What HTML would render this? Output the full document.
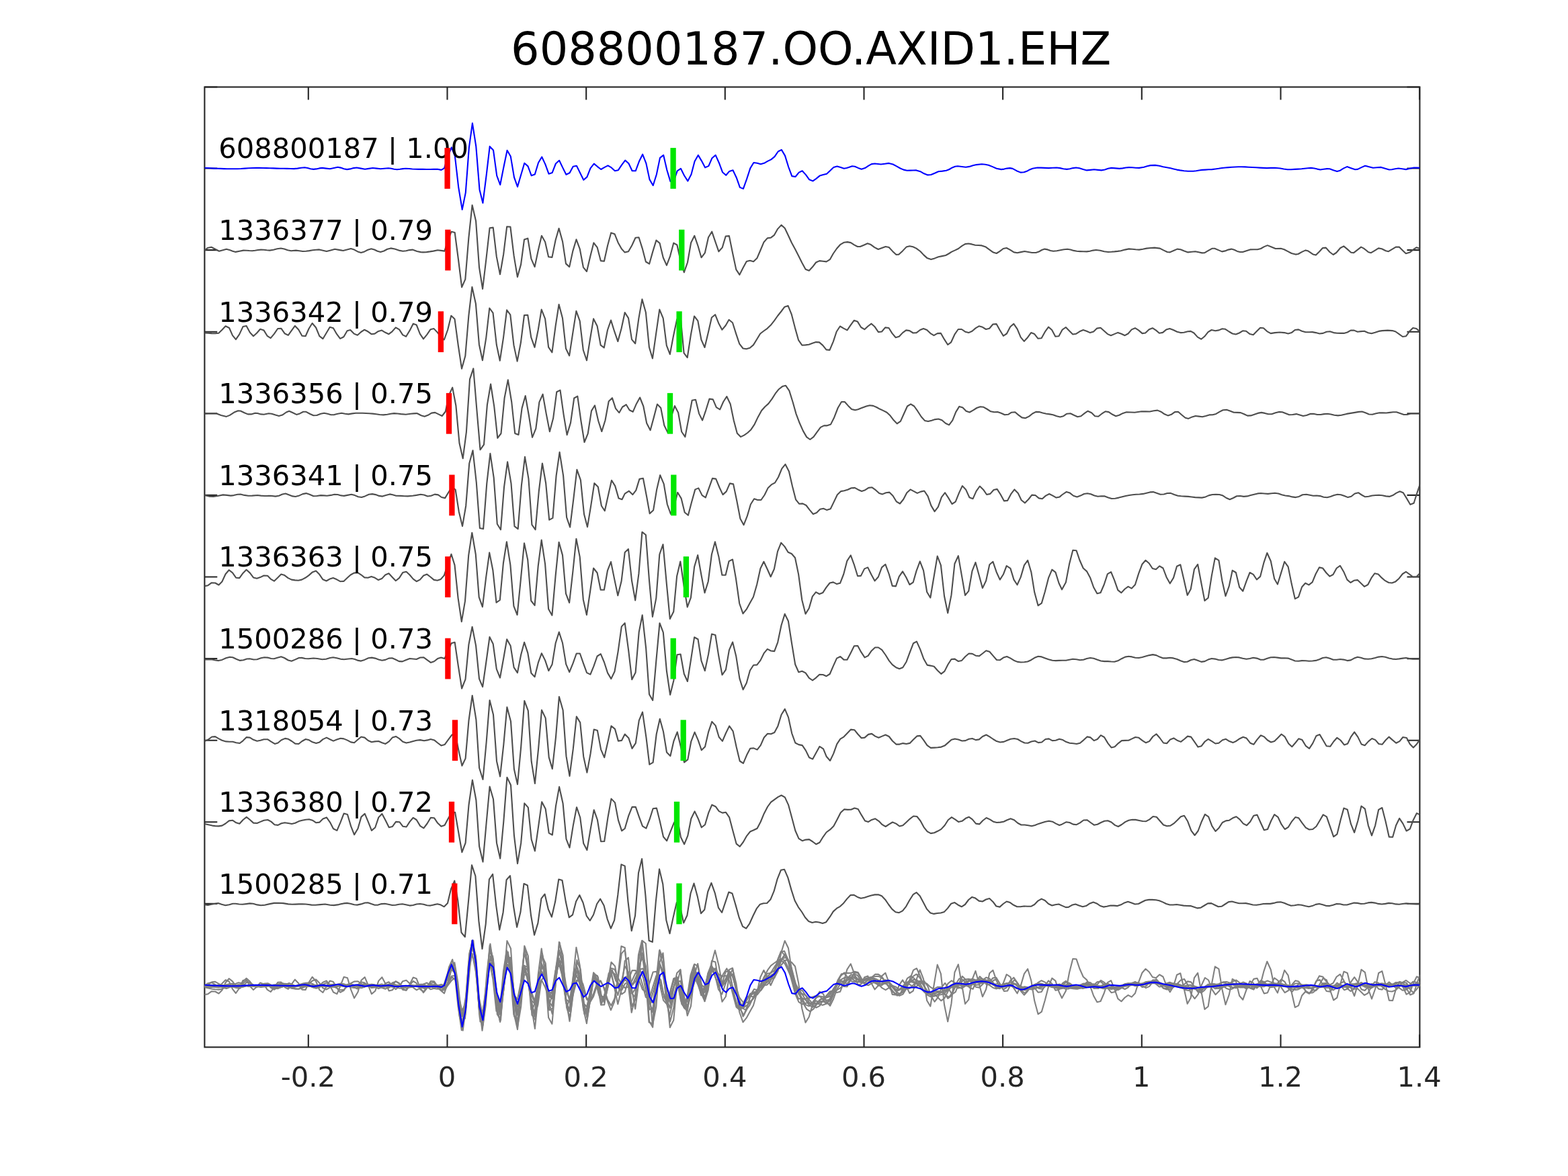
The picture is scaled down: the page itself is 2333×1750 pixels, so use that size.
<!DOCTYPE html>
<html lang="en">
<head>
<meta charset="utf-8">
<title>608800187.OO.AXID1.EHZ</title>
<style>
html,body{margin:0;padding:0;background:#fff;}
body{width:2333px;height:1750px;overflow:hidden;}
svg{display:block;}
text{font-family:"DejaVu Sans","Liberation Sans",sans-serif;}
.tk{font-size:41.67px;fill:#262626;text-anchor:middle;}
.lb{font-size:41.67px;fill:#000;}
.ti{font-size:66.9px;fill:#000;text-anchor:middle;}
.g{fill:none;stroke:#4d4d4d;stroke-width:2.1;stroke-linejoin:round;stroke-linecap:butt;}
.s{fill:none;stroke:#808080;stroke-width:2.1;stroke-linejoin:round;}
.b{fill:none;stroke:#0000ff;stroke-width:2.1;stroke-linejoin:round;}
.ax{fill:none;stroke:#262626;stroke-width:2.1;}
.r{stroke:#ff0000;stroke-width:8.3;}
.gr{stroke:#00e600;stroke-width:8.3;}
</style>
</head>
<body>
<svg width="2333" height="1750" viewBox="0 0 2333 1750">
<rect x="0" y="0" width="2333" height="1750" fill="#ffffff"/>
<defs><clipPath id="c"><rect x="304.4" y="129.5" width="1808.0" height="1428.8"/></clipPath></defs>
<rect class="ax" x="304.4" y="129.5" width="1808.0" height="1428.8"/>
<path class="ax" d="M458.8 1558.3V1539.4M458.8 129.5V148.4M665.5 1558.3V1539.4M665.5 129.5V148.4M872.2 1558.3V1539.4M872.2 129.5V148.4M1078.8 1558.3V1539.4M1078.8 129.5V148.4M1285.5 1558.3V1539.4M1285.5 129.5V148.4M1492.1 1558.3V1539.4M1492.1 129.5V148.4M1698.8 1558.3V1539.4M1698.8 129.5V148.4M1905.5 1558.3V1539.4M1905.5 129.5V148.4M2112.1 1558.3V1539.4M2112.1 129.5V148.4M304.4 129.5H323.3M2112.4 129.5H2093.5M304.4 250.5H323.3M2112.4 250.5H2093.5M304.4 372.1H323.3M2112.4 372.1H2093.5M304.4 493.7H323.3M2112.4 493.7H2093.5M304.4 615.3H323.3M2112.4 615.3H2093.5M304.4 736.9H323.3M2112.4 736.9H2093.5M304.4 858.5H323.3M2112.4 858.5H2093.5M304.4 980.1H323.3M2112.4 980.1H2093.5M304.4 1101.7H323.3M2112.4 1101.7H2093.5M304.4 1223.3H323.3M2112.4 1223.3H2093.5M304.4 1344.9H323.3M2112.4 1344.9H2093.5M304.4 1466.5H323.3M2112.4 1466.5H2093.5"/>
<text class="tk" x="458.3" y="1617">-0.2</text>
<text class="tk" x="665.0" y="1617">0</text>
<text class="tk" x="871.7" y="1617">0.2</text>
<text class="tk" x="1078.3" y="1617">0.4</text>
<text class="tk" x="1285.0" y="1617">0.6</text>
<text class="tk" x="1491.6" y="1617">0.8</text>
<text class="tk" x="1698.3" y="1617">1</text>
<text class="tk" x="1905.0" y="1617">1.2</text>
<text class="tk" x="2111.6" y="1617">1.4</text>
<g clip-path="url(#c)">
<polyline class="b" points="304.3,249.8 309.0,250.0 313.7,250.3 318.4,250.6 323.1,250.8 328.1,250.9 333.0,251.1 337.9,251.2 342.8,251.3 347.7,251.3 353.3,251.2 358.8,251.0 364.4,250.6 369.9,250.3 375.5,250.0 381.0,249.9 386.1,249.9 391.3,250.0 396.4,250.1 401.5,250.2 406.7,250.4 411.8,250.6 416.9,250.7 422.1,250.8 427.2,250.9 432.3,251.0 437.4,251.1 442.7,250.6 448.0,249.8 453.4,249.3 457.7,250.0 462.0,251.2 466.4,251.9 470.7,251.4 475.1,250.4 479.4,249.9 485.2,250.6 491.0,251.3 496.8,250.0 502.5,248.7 507.1,249.6 511.7,251.2 516.3,252.1 521.1,251.4 525.9,250.1 530.7,249.5 536.9,250.6 543.0,251.8 548.8,250.9 554.6,250.0 560.4,250.6 566.2,251.2 572.0,250.8 577.8,250.3 582.1,250.8 586.4,251.7 590.8,252.2 595.1,251.8 599.5,251.1 603.8,250.8 608.6,251.0 613.4,251.5 618.3,251.8 623.7,251.9 629.1,251.9 634.6,252.0 640.0,252.0 645.4,251.9 650.9,251.7 656.6,252.9 661.0,250.4 666.5,232.3 671.8,219.3 676.9,232.3 682.2,278.6 687.7,311.9 692.8,286.6 697.9,219.3 702.9,183.4 708.3,217.9 713.5,282.2 718.4,302.1 723.6,261.3 728.7,217.9 734.0,223.4 739.2,261.3 744.2,275.0 749.5,248.2 754.6,223.7 759.8,232.8 765.0,263.9 770.0,277.9 775.3,259.8 780.3,242.8 785.5,247.4 790.7,261.3 795.8,259.5 801.0,242.2 806.2,233.5 811.4,244.6 816.5,258.7 821.7,256.9 826.9,243.5 832.1,238.8 837.2,249.4 842.4,259.8 847.6,257.2 852.7,247.7 857.9,246.8 863.1,257.2 868.3,267.8 873.4,263.4 878.5,250.4 883.8,243.6 888.8,247.8 894.2,252.0 899.2,249.1 904.5,246.4 909.7,249.4 914.9,254.3 919.9,253.2 925.1,245.3 930.2,238.6 935.4,243.2 940.6,254.3 945.7,254.3 950.9,240.3 956.1,229.7 961.3,242.8 966.5,267.1 971.7,276.0 976.8,259.8 982.0,234.9 987.2,230.9 992.2,252.6 997.4,269.9 1002.6,269.5 1007.7,254.3 1012.9,250.8 1018.1,261.3 1023.3,269.4 1028.5,259.5 1033.6,240.0 1038.8,230.9 1044.0,239.6 1049.1,249.3 1054.3,247.1 1059.5,235.2 1064.7,230.9 1069.8,242.2 1075.0,256.2 1080.2,260.8 1085.2,254.9 1090.5,253.3 1095.7,264.2 1100.9,278.9 1105.9,280.9 1111.1,266.3 1116.3,250.4 1121.4,242.0 1126.6,242.8 1131.8,244.2 1137.0,242.8 1142.1,239.9 1147.3,237.4 1152.5,233.1 1157.7,225.5 1162.8,222.9 1168.0,231.6 1173.2,248.5 1178.3,262.1 1183.5,263.0 1188.7,256.6 1193.7,254.3 1199.0,260.1 1204.2,267.3 1209.4,269.4 1214.4,265.9 1219.6,261.6 1224.8,260.1 1230.0,258.7 1235.1,254.0 1240.3,249.1 1245.5,247.5 1250.7,249.1 1255.8,250.7 1259.7,250.0 1262.9,249.1 1267.9,247.3 1271.9,247.7 1276.8,249.9 1281.8,251.7 1287.8,249.7 1292.3,246.6 1296.8,244.1 1301.7,243.5 1306.2,244.0 1310.7,244.5 1316.6,243.7 1322.6,242.9 1328.6,244.5 1334.0,247.4 1339.5,250.5 1344.5,252.6 1349.5,253.7 1354.1,253.6 1358.7,253.5 1363.4,253.4 1369.3,255.2 1374.8,258.3 1380.3,260.4 1385.3,260.0 1390.7,257.7 1396.2,255.2 1402.2,254.6 1408.1,253.8 1412.5,252.0 1416.8,249.4 1421.1,247.7 1425.0,247.3 1431.0,248.0 1437.0,248.7 1442.3,247.9 1447.6,246.3 1452.9,245.1 1460.8,244.3 1465.8,244.7 1470.8,245.7 1476.8,248.1 1482.7,250.7 1489.7,252.1 1494.0,251.6 1498.3,250.6 1502.6,250.1 1506.6,250.9 1512.6,254.2 1518.5,256.6 1523.5,256.2 1527.8,254.8 1532.1,252.4 1536.4,250.7 1543.4,249.5 1549.0,249.6 1554.7,249.9 1560.3,250.1 1566.3,249.8 1572.2,249.5 1577.2,250.1 1582.2,251.2 1587.2,251.9 1591.8,251.2 1596.4,250.1 1601.1,249.5 1606.1,250.3 1611.5,252.1 1617.0,253.4 1622.5,252.9 1627.9,252.3 1633.4,252.9 1638.9,253.4 1643.8,252.5 1648.8,250.8 1653.8,249.9 1659.8,250.4 1665.7,250.9 1670.4,250.4 1675.0,249.5 1679.7,249.1 1684.7,249.3 1689.8,249.7 1694.9,249.9 1701.9,248.7 1706.8,247.2 1711.8,246.1 1718.8,245.9 1724.8,246.8 1730.7,248.3 1736.2,249.3 1741.7,250.3 1746.3,251.4 1751.0,252.6 1755.6,253.4 1761.6,254.3 1767.5,254.7 1775.5,254.7 1779.8,254.3 1784.1,253.5 1788.4,252.9 1793.4,252.6 1798.3,252.3 1803.3,252.1 1808.3,251.5 1813.3,250.8 1818.2,250.0 1823.2,249.5 1828.0,249.1 1832.8,248.8 1837.5,248.5 1842.3,248.3 1847.1,248.3 1852.6,248.4 1858.0,248.7 1863.5,249.0 1869.0,249.3 1874.3,249.6 1879.6,249.9 1884.9,250.1 1890.8,249.9 1896.8,249.7 1904.8,250.5 1910.2,251.5 1915.7,252.3 1920.9,252.2 1926.2,251.9 1931.4,251.6 1936.6,251.3 1941.2,250.8 1945.9,250.2 1950.5,249.9 1955.5,250.5 1960.0,251.6 1964.5,252.5 1969.4,251.8 1974.4,251.1 1978.4,251.3 1983.8,253.3 1989.3,255.1 1993.3,254.1 1998.8,250.6 2004.2,248.1 2010.2,250.2 2016.2,252.3 2020.1,251.9 2025.6,249.1 2031.1,246.7 2037.0,248.2 2043.0,249.7 2049.0,249.3 2054.9,248.9 2060.9,250.7 2066.9,252.5 2070.9,252.3 2075.8,251.3 2080.8,250.5 2086.3,251.3 2091.8,252.1 2097.7,250.8 2103.7,249.5 2108.2,249.6 2112.6,249.9"/>
<polyline class="g" points="304.3,372.6 308.7,369.1 314.5,367.7 320.2,370.7 326.0,373.7 331.5,372.3 336.9,370.8 341.5,371.9 346.1,373.8 350.6,374.9 356.4,373.7 362.2,372.6 366.6,372.7 370.9,373.0 375.2,373.2 379.6,372.7 383.9,372.0 388.2,371.6 392.6,371.8 396.9,372.3 401.3,372.6 406.8,371.8 412.4,370.3 417.9,369.5 423.0,370.5 428.0,372.2 433.1,373.2 440.3,372.6 445.4,373.3 450.4,374.0 455.4,373.7 460.3,373.1 465.2,372.3 470.1,371.7 475.1,371.4 480.5,372.7 485.9,374.0 492.0,372.4 498.2,370.8 504.3,371.9 510.5,373.0 516.3,371.6 522.1,370.1 527.1,371.6 532.2,374.4 537.2,375.9 542.3,374.4 547.4,371.7 552.4,370.2 557.0,371.5 561.6,373.7 566.2,374.9 571.2,373.5 576.3,370.8 581.4,369.4 587.4,370.5 593.4,372.6 599.5,373.7 604.3,373.2 609.1,372.1 613.9,371.6 615.1,372.0 620.5,373.9 625.9,375.1 629.5,375.4 634.6,375.1 639.7,374.4 644.7,373.6 651.2,372.2 656.3,372.9 661.4,373.6 666.4,358.0 671.6,344.7 676.7,346.1 681.9,385.5 687.1,427.4 692.3,415.6 697.4,353.7 702.6,305.2 708.1,329.1 713.0,397.8 718.1,430.0 723.4,385.5 728.6,339.2 733.7,338.6 738.8,381.9 744.0,408.3 749.2,378.2 754.2,337.2 759.4,337.5 764.6,380.4 769.9,412.2 775.1,393.4 780.0,356.6 785.3,354.7 790.4,385.2 795.6,397.1 800.8,372.5 805.9,350.8 811.1,359.9 816.1,382.2 821.4,382.9 826.6,357.3 831.6,339.9 837.0,359.2 842.0,392.4 847.2,397.1 852.3,373.6 857.5,356.3 862.7,370.3 867.9,397.8 873.0,404.0 878.4,381.1 883.4,361.3 888.6,368.1 893.8,388.1 898.9,388.7 904.1,365.2 909.2,346.4 914.5,348.2 919.6,360.9 924.8,370.3 929.7,375.6 935.0,374.2 940.2,365.2 945.5,353.7 950.5,353.2 955.7,369.6 960.9,389.5 966.1,392.7 971.2,374.6 976.4,357.6 981.6,361.9 986.7,383.3 991.9,394.9 997.1,381.1 1002.3,361.6 1007.4,364.5 1012.6,388.4 1017.8,405.3 1023.0,390.5 1028.1,361.3 1033.3,350.8 1038.5,366.0 1043.5,383.3 1048.8,376.4 1054.0,353.2 1059.2,344.7 1064.2,359.4 1069.4,374.3 1074.7,368.4 1079.7,351.5 1084.9,351.1 1090.1,376.8 1095.3,401.1 1100.4,408.9 1105.6,398.5 1110.8,389.1 1115.9,387.8 1121.1,389.2 1126.3,384.3 1131.4,372.5 1136.6,360.2 1141.8,354.4 1147.0,353.7 1152.0,349.8 1157.2,340.6 1162.5,334.9 1167.7,339.5 1172.7,350.0 1177.9,361.3 1183.2,371.0 1188.3,380.9 1193.4,391.3 1198.6,400.7 1203.8,402.8 1208.9,397.3 1214.1,390.5 1219.3,388.1 1224.5,388.8 1229.6,389.4 1234.8,386.2 1239.7,377.5 1244.9,370.0 1250.0,364.2 1256.0,360.7 1260.9,360.1 1265.9,361.1 1270.9,364.4 1275.9,367.0 1279.8,367.0 1285.3,364.7 1290.8,362.3 1295.8,364.1 1301.2,368.1 1306.7,371.0 1312.2,369.0 1317.6,367.0 1322.6,368.0 1328.1,373.9 1333.5,379.0 1337.5,378.6 1343.0,373.4 1348.5,367.6 1353.4,366.2 1358.4,367.3 1363.4,369.6 1369.3,374.0 1374.3,379.4 1379.3,383.9 1385.3,385.9 1390.7,384.4 1396.2,382.2 1401.7,381.1 1407.1,380.0 1411.6,377.5 1416.1,374.6 1421.1,372.4 1426.0,370.0 1431.0,366.1 1436.0,363.1 1441.0,362.5 1445.9,363.4 1450.9,364.7 1455.9,365.0 1460.8,365.4 1466.8,367.6 1472.3,371.7 1477.8,375.6 1482.7,377.0 1487.7,373.9 1492.7,370.0 1497.7,369.0 1503.1,371.9 1508.6,375.4 1513.6,376.2 1519.0,375.1 1524.5,374.0 1530.0,375.0 1535.4,376.0 1541.4,376.0 1545.7,374.6 1550.0,372.0 1554.3,370.6 1558.7,371.4 1563.0,373.0 1567.3,373.8 1572.5,373.3 1577.7,372.3 1582.9,371.3 1588.2,370.8 1592.8,371.5 1597.4,372.9 1602.1,373.8 1607.0,374.1 1612.0,374.3 1617.0,374.4 1621.6,373.8 1626.3,372.6 1630.9,372.0 1636.9,372.8 1642.9,374.2 1648.8,375.0 1653.5,374.8 1658.3,374.4 1663.0,373.9 1667.7,373.2 1673.7,371.6 1679.7,370.4 1684.7,370.7 1689.8,371.3 1694.9,371.6 1700.4,370.8 1705.9,369.6 1711.8,369.0 1717.8,368.6 1725.8,369.6 1731.2,372.4 1736.7,375.0 1740.7,375.4 1746.1,373.0 1751.6,370.6 1756.6,371.2 1762.0,373.5 1767.5,375.4 1773.0,374.8 1778.5,374.2 1783.4,375.3 1788.4,376.4 1792.4,376.2 1797.9,372.9 1803.3,369.8 1807.3,369.8 1812.8,372.1 1818.2,374.4 1822.9,373.4 1827.5,371.6 1832.2,370.6 1836.5,371.8 1840.8,373.9 1845.1,375.0 1849.1,375.0 1854.5,373.2 1860.0,371.4 1865.5,371.3 1871.0,371.2 1875.9,370.0 1880.9,367.1 1885.9,365.1 1891.8,367.5 1897.8,370.0 1905.8,369.8 1910.7,371.2 1916.2,374.1 1921.7,377.0 1927.7,378.6 1931.6,378.0 1937.1,374.9 1942.6,372.4 1946.5,373.6 1953.5,378.4 1957.9,379.6 1963.0,374.5 1968.0,369.0 1972.8,368.6 1978.4,375.0 1983.7,379.0 1988.3,376.0 1994.3,369.0 1999.3,366.4 2004.2,370.4 2010.2,375.8 2014.2,376.2 2019.7,371.9 2025.1,367.6 2029.1,369.6 2036.1,375.2 2040.0,376.2 2045.5,372.8 2051.0,369.4 2055.9,370.2 2061.9,373.2 2065.9,374.2 2071.4,370.9 2076.8,367.6 2081.8,367.6 2086.8,372.4 2091.8,377.2 2097.7,375.6 2102.7,371.4 2107.7,368.2 2112.6,370.0"/>
<polyline class="g" points="304.3,495.5 309.6,495.8 314.9,496.1 320.2,496.2 325.3,495.8 330.5,490.7 335.6,485.3 341.1,488.0 346.0,499.1 350.9,505.2 356.1,497.6 361.5,486.1 366.6,484.9 371.9,494.8 377.0,500.2 382.2,495.5 387.2,489.7 392.6,491.6 397.6,499.8 402.7,503.1 407.9,496.9 413.3,489.0 418.3,488.7 423.5,496.2 428.8,498.9 433.8,491.9 438.9,484.9 444.2,490.4 449.4,499.8 454.6,500.2 459.6,489.0 464.6,481.0 470.1,487.5 475.3,500.2 480.4,504.2 485.6,495.5 490.8,486.8 495.9,488.2 501.1,497.2 506.1,503.9 511.4,501.3 516.6,492.3 521.3,491.1 526.7,496.6 531.9,498.7 537.2,494.0 542.3,490.7 547.4,493.3 552.6,497.2 557.5,496.6 563.0,492.9 568.1,491.6 573.3,494.8 578.5,497.2 583.5,493.3 588.8,487.4 594.1,490.4 599.2,498.4 604.2,500.8 609.6,491.9 614.8,481.7 619.7,483.5 624.9,496.8 630.0,504.3 635.3,497.8 640.4,490.3 645.6,489.1 650.8,494.6 655.9,501.1 660.9,505.5 666.1,491.0 671.3,469.8 676.5,474.7 681.8,514.2 687.0,548.6 692.3,529.8 697.4,469.3 702.4,427.1 707.9,451.9 712.9,512.7 717.9,536.3 723.3,502.6 728.3,458.5 733.5,465.7 738.8,513.0 743.8,536.7 749.0,502.6 754.1,461.4 759.3,468.3 764.5,513.9 769.6,537.6 774.9,509.8 780.0,469.0 785.2,468.7 790.2,501.9 795.5,516.8 800.7,491.0 805.7,460.6 811.1,474.4 816.1,516.6 821.4,524.3 826.6,485.2 831.6,453.0 837.0,473.6 842.0,518.8 847.1,529.4 852.3,495.3 857.4,462.8 862.7,477.6 867.8,521.0 873.0,536.3 878.1,504.0 883.1,474.4 888.6,485.2 893.7,513.7 898.8,517.3 904.0,491.0 909.0,476.6 914.2,493.2 919.3,508.1 924.6,488.8 929.7,465.0 935.0,473.4 940.0,505.1 945.2,511.3 950.4,473.6 955.4,445.4 960.9,465.0 965.9,516.8 970.9,533.4 976.3,495.3 981.3,460.6 986.7,473.6 991.8,514.2 996.8,527.2 1002.0,499.7 1007.2,475.2 1012.4,469.9 1017.6,525.4 1022.7,532.2 1027.9,498.2 1033.0,470.5 1038.3,477.3 1043.4,505.5 1048.5,517.0 1053.7,495.3 1058.9,472.5 1064.1,468.2 1069.2,480.9 1074.4,490.7 1079.6,484.5 1084.6,475.8 1090.0,480.2 1095.0,496.1 1100.2,511.7 1105.5,518.5 1110.5,519.2 1115.7,517.8 1120.9,513.4 1126.2,504.8 1131.2,496.5 1136.4,492.5 1141.6,488.8 1146.8,483.8 1151.9,477.3 1157.1,470.0 1162.3,463.5 1167.4,456.7 1172.6,455.1 1177.8,467.9 1183.0,488.1 1188.1,506.2 1193.3,513.7 1198.5,513.4 1203.5,512.7 1208.8,510.8 1214.0,509.1 1219.0,509.4 1224.2,513.9 1229.4,520.4 1234.5,520.9 1239.8,508.3 1244.7,493.5 1249.9,485.5 1255.2,488.6 1260.5,491.4 1265.6,483.9 1270.7,476.8 1275.8,478.4 1281.1,487.0 1286.3,490.2 1291.4,485.5 1296.5,481.7 1301.6,486.3 1306.9,494.1 1312.0,493.5 1317.1,487.4 1322.4,488.0 1327.5,496.1 1332.7,502.2 1337.8,500.8 1343.1,495.1 1348.2,491.4 1353.3,492.1 1358.6,495.5 1363.7,495.1 1369.0,491.0 1374.0,489.0 1379.1,491.0 1384.4,496.1 1389.5,499.2 1394.8,496.1 1399.9,495.9 1405.0,504.9 1410.2,513.0 1415.1,509.3 1420.4,497.7 1425.7,490.0 1430.8,490.0 1436.1,493.7 1441.2,495.1 1446.5,492.7 1451.5,488.4 1456.6,485.3 1461.9,486.8 1467.0,490.0 1472.1,488.8 1477.4,482.5 1482.5,482.1 1487.5,491.0 1492.8,499.8 1497.9,496.5 1503.2,486.3 1508.3,481.9 1513.6,489.6 1518.7,501.8 1523.8,507.9 1529.0,502.2 1534.1,495.1 1539.2,497.1 1544.5,503.8 1549.6,503.2 1554.9,493.7 1560.0,486.6 1565.1,491.0 1570.3,500.8 1575.4,500.2 1580.7,490.6 1585.8,487.0 1590.9,492.2 1596.2,497.5 1601.3,496.7 1606.4,493.3 1611.7,491.0 1616.7,492.7 1622.0,495.1 1627.1,493.5 1632.2,488.6 1637.5,487.8 1642.6,492.2 1647.9,497.1 1652.9,499.2 1658.0,497.1 1663.3,494.9 1668.4,496.7 1673.7,499.2 1678.5,496.5 1683.8,490.4 1688.9,488.2 1694.0,491.4 1699.5,496.1 1704.2,495.5 1709.7,490.2 1714.8,488.2 1719.8,491.4 1724.9,495.7 1730.0,494.9 1735.1,490.6 1740.4,489.0 1745.7,491.0 1751.4,493.7 1756.5,495.1 1761.5,494.7 1767.2,493.3 1771.7,492.9 1776.4,495.5 1781.9,501.6 1787.2,504.7 1792.1,500.8 1797.5,494.1 1802.6,491.0 1808.3,492.2 1813.4,491.4 1818.5,489.2 1823.2,489.8 1828.7,493.5 1833.8,496.5 1838.8,497.5 1843.9,495.5 1849.4,492.2 1854.1,492.7 1859.6,497.1 1864.7,498.3 1869.8,493.1 1875.1,487.8 1880.0,488.2 1885.2,493.1 1890.7,496.1 1896.8,495.1 1904.0,494.5 1911.1,495.1 1916.6,496.5 1921.7,495.1 1926.7,491.0 1932.0,490.4 1937.1,492.7 1942.6,494.3 1947.7,494.2 1952.8,494.1 1957.9,495.1 1963.3,496.5 1968.6,495.9 1973.7,493.7 1978.8,493.3 1984.3,495.1 1989.4,495.7 1994.5,495.9 1999.6,495.9 2004.7,494.5 2009.7,491.6 2014.8,491.6 2019.9,493.7 2025.0,493.1 2030.1,492.7 2035.6,495.3 2040.7,496.3 2046.0,494.7 2051.4,492.9 2056.5,492.1 2064.7,491.6 2071.8,492.1 2076.5,493.5 2081.6,497.1 2087.0,501.0 2092.1,500.2 2097.2,493.1 2102.3,488.0 2107.4,489.0 2112.7,493.7"/>
<polyline class="g" points="304.3,615.6 310.4,615.5 316.4,615.4 322.4,615.4 328.9,617.9 336.9,619.9 341.9,617.9 349.2,613.2 354.2,611.2 357.9,611.5 363.6,614.3 368.7,616.4 373.8,616.4 379.6,614.7 383.2,615.0 388.2,616.4 392.6,616.7 399.8,615.3 404.2,615.7 409.9,617.6 415.0,618.9 420.1,617.6 425.9,613.5 430.2,611.8 435.3,614.0 441.1,616.9 446.1,615.4 451.2,612.7 455.5,612.8 461.3,616.0 466.4,618.3 471.4,618.0 477.2,615.8 482.3,614.7 487.3,615.8 492.4,617.3 497.5,617.1 502.5,615.7 508.3,614.7 513.4,615.7 518.4,616.4 524.2,615.4 529.3,614.7 534.4,614.7 539.4,614.8 544.5,615.0 549.5,615.2 554.6,615.6 559.7,616.3 564.7,617.0 570.5,617.4 576.3,616.7 581.4,615.8 586.4,615.1 591.5,615.5 596.6,616.1 603.8,616.7 611.0,615.8 615.4,615.4 619.7,615.1 620.9,615.3 626.6,618.2 631.7,619.7 636.8,617.8 642.1,614.6 647.3,613.9 652.4,616.4 657.7,619.0 662.8,612.5 668.0,587.9 673.2,576.6 678.4,603.8 683.5,659.5 688.7,682.3 693.9,642.8 699.0,564.4 704.3,548.4 709.5,611.0 714.5,669.3 720.0,661.6 724.9,602.3 730.1,571.5 735.3,605.2 740.3,651.9 745.5,645.0 750.6,592.2 755.8,565.4 761.2,598.0 766.2,645.0 771.5,646.9 776.6,607.4 781.7,589.0 786.9,618.2 792.0,650.8 797.3,637.8 802.4,598.4 807.6,586.7 812.8,616.1 817.9,642.3 823.1,622.6 828.3,583.2 833.5,580.6 838.6,616.8 843.6,647.2 849.0,629.1 854.2,592.5 859.3,589.6 864.3,625.5 869.5,658.0 874.7,645.3 880.0,611.4 885.0,603.3 890.2,626.2 895.3,642.1 900.5,625.5 905.7,597.3 910.9,592.2 916.0,607.8 921.2,614.2 926.2,605.5 929.7,603.5 931.6,602.0 936.6,610.3 941.7,612.8 946.9,600.9 952.1,591.5 957.3,604.5 962.2,629.8 967.6,640.2 972.8,621.1 977.9,601.6 983.2,607.0 988.3,633.0 993.5,643.6 998.7,620.4 1003.9,604.1 1009.1,613.9 1014.2,642.5 1019.4,650.1 1024.6,622.6 1029.7,595.8 1035.0,594.7 1040.1,615.6 1045.1,625.5 1050.3,610.3 1055.5,593.6 1060.8,594.4 1065.8,606.2 1071.2,609.3 1076.2,598.0 1081.3,590.0 1086.7,601.2 1091.7,625.5 1096.8,644.7 1102.0,650.1 1107.2,647.6 1112.4,644.0 1117.5,639.2 1122.7,631.3 1127.9,620.4 1133.1,611.0 1138.2,605.2 1143.4,600.6 1148.6,593.6 1153.6,585.7 1158.8,579.2 1164.0,575.1 1169.1,573.8 1174.3,581.4 1179.5,598.0 1184.6,616.1 1189.8,629.8 1195.0,641.4 1200.2,650.4 1205.3,654.0 1210.5,650.1 1215.7,642.8 1220.9,635.9 1226.0,633.4 1230.0,633.4 1236.1,631.4 1241.2,621.2 1246.7,607.0 1252.0,598.0 1256.8,598.0 1262.1,603.9 1267.2,609.0 1272.3,610.2 1276.6,609.3 1280.9,607.6 1289.0,604.5 1294.1,603.3 1299.2,603.9 1304.2,606.0 1309.3,608.8 1314.4,611.1 1319.5,613.7 1324.6,618.6 1329.7,625.3 1334.8,630.4 1339.9,626.9 1344.9,615.7 1350.0,604.5 1355.1,601.3 1360.2,604.5 1365.3,611.7 1370.8,620.2 1375.9,625.9 1381.0,627.1 1386.2,625.7 1391.3,624.1 1396.4,623.5 1401.5,625.3 1407.0,630.0 1412.1,632.4 1417.2,625.7 1422.2,613.1 1427.3,604.9 1432.4,606.6 1437.5,611.7 1442.6,613.5 1447.7,610.6 1453.4,607.0 1458.5,605.2 1463.5,605.8 1469.0,609.0 1474.1,612.3 1479.2,613.3 1484.3,613.1 1489.4,614.7 1494.9,617.2 1500.0,616.8 1505.0,613.7 1510.3,613.3 1515.4,617.6 1520.5,621.4 1525.6,622.2 1531.1,619.6 1536.2,615.5 1541.3,612.9 1546.3,613.1 1551.4,614.5 1556.9,615.7 1561.8,616.4 1566.7,617.2 1572.2,619.2 1577.3,620.4 1582.3,619.2 1587.4,615.7 1592.7,615.3 1597.8,617.8 1603.3,620.2 1608.4,619.2 1613.5,615.1 1618.6,611.7 1624.1,614.3 1629.1,619.2 1634.2,619.8 1639.3,615.7 1644.6,612.3 1649.7,613.1 1655.2,616.8 1660.3,619.2 1665.3,617.8 1670.8,614.9 1676.1,613.3 1682.2,613.5 1688.3,613.7 1693.4,613.0 1698.5,612.3 1704.6,612.4 1710.7,612.5 1716.8,611.3 1722.3,610.6 1727.4,612.7 1732.7,616.3 1737.7,618.4 1742.8,616.8 1747.9,613.1 1753.0,612.7 1758.1,617.2 1763.6,621.8 1768.3,622.9 1773.8,620.4 1778.8,619.0 1783.9,619.6 1789.0,620.2 1794.1,618.9 1799.2,617.4 1804.3,617.2 1809.3,615.9 1814.4,612.9 1819.5,610.2 1825.0,609.8 1830.1,611.5 1835.8,613.7 1840.9,613.9 1846.0,614.1 1851.1,616.3 1856.1,618.6 1861.2,618.4 1866.3,616.8 1871.4,614.9 1876.9,613.9 1882.0,614.9 1887.1,616.3 1892.2,616.3 1897.8,614.3 1902.9,612.9 1908.0,613.3 1913.1,615.3 1918.2,617.2 1923.3,617.0 1928.8,616.1 1933.9,617.6 1938.9,619.0 1944.0,618.0 1949.3,615.9 1954.4,615.7 1959.9,617.0 1965.0,617.0 1970.1,616.1 1975.2,615.7 1980.2,616.5 1985.3,617.8 1990.8,618.4 1995.9,617.8 2003.6,615.9 2009.7,614.9 2015.8,613.9 2021.5,612.9 2026.6,612.5 2031.7,614.3 2036.8,616.5 2041.9,616.8 2047.4,615.3 2052.5,614.3 2057.6,614.4 2062.6,614.5 2067.7,613.9 2072.8,613.3 2077.9,613.3 2083.0,615.1 2088.7,617.0 2093.8,617.0 2098.8,615.5 2103.4,615.5 2108.1,615.5 2112.7,615.5"/>
<polyline class="g" points="304.3,737.1 310.9,738.6 317.4,739.0 323.9,738.0 331.8,736.4 337.6,736.9 343.4,737.6 347.7,737.1 353.5,735.8 357.9,735.5 363.6,736.9 369.4,737.7 375.2,737.6 383.2,737.0 388.2,737.6 394.0,738.0 398.4,737.9 402.7,737.7 409.9,738.6 415.0,737.7 420.1,735.5 424.9,734.5 430.2,736.4 435.3,738.4 439.6,739.0 445.4,737.4 450.4,735.1 455.5,734.1 460.6,735.8 466.4,738.2 471.4,738.0 477.2,737.1 481.9,737.4 486.6,737.7 492.4,736.9 497.5,735.7 502.5,736.0 507.6,737.4 511.9,737.9 517.0,736.9 522.8,735.8 527.9,737.1 532.9,739.3 538.0,740.0 543.0,738.4 548.8,735.8 553.9,735.1 559.0,736.1 564.0,737.9 569.1,738.6 574.1,736.9 579.9,735.4 584.3,736.3 589.3,737.7 596.6,737.9 601.6,738.2 606.7,738.4 613.9,737.7 619.7,736.9 625.9,735.8 631.0,736.5 636.3,738.5 641.5,737.8 646.8,735.6 652.0,736.4 657.0,740.0 662.2,741.1 667.4,732.5 672.5,724.5 677.7,728.8 682.8,761.4 688.0,783.1 693.2,752.7 698.2,689.8 703.5,670.2 708.8,718.0 713.9,786.0 719.1,787.0 724.3,719.4 729.4,674.9 734.7,710.8 739.8,779.8 745.0,788.2 750.0,725.2 755.1,687.3 760.5,719.4 765.5,783.1 770.7,787.1 775.9,722.3 781.0,679.9 786.4,712.2 791.4,780.9 796.6,788.2 801.8,731.0 806.9,689.5 812.1,718.7 817.2,773.7 822.4,770.8 827.6,707.9 832.6,672.9 838.1,707.9 843.1,769.8 848.1,784.5 853.3,742.6 858.4,698.9 863.9,714.4 869.0,765.0 874.0,784.2 879.2,752.7 884.3,719.1 889.8,724.5 894.9,752.7 899.8,760.2 905.0,736.8 910.0,714.8 915.2,723.1 920.5,741.6 925.5,743.3 929.7,734.6 935.9,730.7 941.3,736.1 946.3,729.6 951.4,712.9 956.9,711.8 962.0,738.2 966.7,764.3 972.1,759.2 977.1,728.8 982.2,707.1 987.7,720.2 992.8,750.5 998.0,765.0 1003.2,753.0 1008.2,732.8 1013.7,741.9 1018.7,762.5 1023.9,766.8 1029.1,746.9 1034.3,728.4 1039.3,726.4 1044.7,737.1 1049.8,740.4 1055.0,725.9 1060.0,711.9 1065.2,712.6 1070.5,725.5 1075.5,736.1 1080.7,731.4 1085.9,719.4 1091.1,720.4 1096.2,744.8 1101.4,771.8 1106.6,781.2 1111.8,767.9 1116.9,750.5 1122.1,742.3 1127.2,744.0 1132.4,744.0 1137.6,736.5 1142.8,725.9 1147.8,721.2 1153.1,718.3 1158.1,710.0 1163.3,697.4 1168.5,690.9 1173.9,701.4 1179.0,723.8 1184.0,743.3 1189.2,749.8 1194.3,749.4 1199.5,752.0 1204.7,758.8 1209.9,765.0 1215.0,763.1 1220.2,757.8 1225.2,756.8 1230.0,758.9 1235.7,757.3 1240.6,747.1 1245.8,736.2 1251.2,731.1 1256.0,730.3 1261.2,728.8 1266.6,726.2 1271.8,725.9 1276.9,728.7 1282.1,731.0 1287.3,729.2 1292.3,725.9 1297.5,725.3 1302.8,729.2 1308.1,734.0 1313.0,735.4 1318.2,733.2 1323.2,732.6 1328.5,737.8 1333.7,746.3 1339.0,749.5 1344.2,743.0 1349.3,733.2 1354.5,728.4 1359.7,731.1 1364.8,733.9 1370.0,731.6 1375.2,730.5 1380.5,738.4 1385.4,752.4 1390.6,761.1 1395.8,754.4 1400.9,739.8 1406.1,733.2 1411.1,740.9 1416.5,750.0 1421.7,746.6 1426.9,733.6 1431.8,723.1 1437.0,728.4 1442.4,740.2 1447.6,742.2 1452.6,730.8 1457.8,723.5 1463.1,728.7 1468.1,736.0 1473.3,734.9 1478.5,729.0 1483.6,727.9 1488.8,736.0 1494.0,745.4 1499.0,744.9 1504.2,735.2 1509.4,728.4 1514.8,734.0 1519.7,744.3 1524.9,748.4 1530.3,743.0 1535.3,736.6 1540.5,737.0 1545.7,741.4 1550.8,742.2 1556.0,737.6 1561.2,735.0 1566.4,737.6 1571.6,740.6 1576.7,739.4 1580.0,736.5 1586.8,731.9 1591.9,733.6 1597.1,737.8 1602.5,739.4 1607.7,737.6 1612.9,735.0 1617.9,734.2 1623.1,735.2 1628.3,737.5 1633.4,738.8 1638.6,738.3 1643.8,738.4 1649.0,740.4 1654.0,742.0 1659.3,741.7 1664.6,740.6 1669.8,739.2 1674.9,738.0 1680.1,737.0 1685.2,736.2 1690.3,735.7 1695.5,735.5 1700.8,734.9 1705.8,733.7 1711.0,732.4 1715.9,732.1 1721.6,734.0 1726.5,735.8 1731.7,735.5 1736.7,734.0 1741.9,733.9 1747.1,736.0 1752.5,737.8 1757.4,738.3 1762.7,738.6 1768.0,738.9 1773.1,739.5 1778.2,740.1 1783.4,740.4 1788.3,740.6 1793.7,739.4 1798.9,737.1 1803.9,736.0 1809.2,735.8 1814.4,736.0 1819.6,737.6 1824.6,741.0 1829.8,743.2 1835.0,741.0 1840.1,738.3 1845.3,738.0 1850.5,738.9 1855.7,738.4 1860.7,737.1 1866.0,735.7 1871.3,734.4 1876.2,734.0 1881.4,734.5 1886.6,734.9 1891.7,734.2 1896.9,733.7 1902.2,734.5 1907.1,736.3 1912.3,737.5 1917.5,738.1 1922.6,739.4 1927.8,740.1 1932.8,738.9 1938.0,736.2 1943.7,735.8 1949.0,736.8 1953.9,737.8 1959.1,737.5 1964.2,738.1 1969.4,739.8 1974.6,740.2 1979.6,738.9 1984.8,737.0 1990.0,735.8 1995.1,736.2 2000.3,738.0 2005.5,740.1 2010.5,738.8 2015.8,734.5 2021.0,733.2 2026.0,736.5 2031.2,739.3 2036.4,738.8 2041.5,737.5 2046.7,737.0 2051.9,736.8 2056.9,737.3 2062.1,738.4 2067.3,738.9 2072.4,737.1 2077.6,733.6 2082.8,731.3 2087.8,733.2 2093.1,741.9 2098.3,750.8 2103.6,748.7 2108.5,733.2 2112.6,721.0"/>
<polyline class="g" points="304.3,872.1 309.4,871.2 314.9,867.2 320.2,867.5 325.5,870.5 330.4,865.5 335.6,854.3 340.8,848.2 346.0,852.4 351.1,859.7 356.3,860.1 361.5,852.9 366.6,847.8 371.9,852.6 377.0,859.4 382.2,860.8 387.2,859.1 392.6,856.5 398.1,856.8 402.7,861.6 407.9,864.7 413.1,859.7 418.3,854.6 423.4,856.1 428.6,860.1 433.8,862.6 438.9,863.4 443.9,863.7 449.0,862.6 454.4,859.8 459.6,856.1 464.9,851.4 470.1,849.5 475.3,854.8 480.4,862.3 485.6,864.5 490.7,861.6 495.7,860.0 501.1,862.3 506.1,865.2 511.4,864.9 516.6,860.1 521.6,855.5 526.8,852.6 532.2,852.1 537.2,855.3 542.3,859.4 547.4,859.8 552.6,857.9 557.8,859.8 563.0,863.1 568.1,861.1 573.3,855.5 578.5,853.3 583.5,858.7 588.8,864.2 594.0,860.1 599.2,852.1 604.5,850.7 609.6,855.5 614.8,861.6 619.7,865.2 624.9,862.6 630.2,856.5 635.3,854.6 640.4,858.5 645.6,862.9 650.8,863.7 655.9,861.9 660.9,856.1 666.3,839.4 671.5,824.7 676.5,840.9 681.6,890.1 686.8,925.2 692.0,894.4 697.2,826.4 702.3,792.7 707.8,825.0 712.7,888.6 717.9,903.1 723.1,859.7 728.2,822.4 733.4,848.8 738.5,896.6 743.8,893.0 748.9,838.0 753.9,806.2 759.4,840.9 764.4,901.9 769.6,915.0 774.8,862.6 780.0,808.3 785.2,832.9 790.2,894.0 795.6,900.9 800.7,842.3 805.7,803.6 811.1,839.4 816.1,906.3 821.4,915.7 826.6,856.8 831.6,806.9 837.0,826.1 842.0,883.3 847.1,896.9 852.3,851.0 857.4,801.8 862.7,828.6 867.8,892.2 872.9,915.0 878.1,880.0 883.1,845.5 888.6,852.5 893.7,877.8 898.9,877.8 904.0,848.8 909.0,836.1 914.2,861.9 919.3,886.2 924.6,864.8 929.7,822.1 934.9,817.0 940.0,864.0 945.2,893.4 950.4,853.9 955.4,791.7 960.9,796.0 965.9,862.6 970.9,917.9 976.3,890.1 981.3,825.0 986.5,810.2 991.8,868.4 996.8,920.9 1002.2,910.3 1007.1,857.5 1012.3,835.5 1017.5,871.3 1022.7,903.4 1027.9,889.4 1033.1,843.5 1038.2,826.1 1043.4,855.4 1048.5,882.1 1053.7,865.5 1058.9,825.0 1063.9,806.2 1069.3,827.9 1074.4,855.8 1079.6,855.8 1084.6,835.1 1090.0,832.5 1095.0,861.1 1100.2,898.0 1105.5,913.2 1110.7,906.7 1115.7,897.6 1120.9,888.2 1126.2,869.8 1131.4,846.0 1136.4,835.8 1141.6,846.7 1146.7,858.2 1151.9,846.7 1157.0,820.6 1162.2,807.6 1167.5,813.4 1172.6,821.8 1177.8,824.0 1183.0,830.0 1188.1,854.6 1193.3,893.0 1198.5,913.6 1203.7,905.3 1208.8,887.6 1214.0,881.1 1219.2,884.0 1224.2,882.1 1229.4,874.2 1234.6,867.5 1239.8,866.4 1245.1,869.1 1250.0,867.8 1255.2,854.5 1260.4,834.6 1265.8,826.3 1270.7,839.8 1276.1,857.2 1280.9,856.9 1286.2,846.4 1291.2,844.4 1296.4,855.0 1301.6,864.4 1306.8,858.5 1312.0,844.4 1317.4,839.8 1322.8,854.5 1327.7,871.9 1332.9,872.4 1337.7,858.1 1343.0,850.4 1348.3,859.2 1353.4,870.0 1358.6,866.7 1363.5,849.6 1368.8,835.4 1374.0,848.8 1379.2,881.0 1384.3,889.5 1389.5,858.5 1394.7,827.6 1399.9,841.1 1405.0,887.0 1410.2,912.3 1415.5,885.4 1420.4,839.0 1425.8,827.1 1431.0,856.9 1436.0,885.9 1441.2,879.7 1446.5,849.6 1451.5,836.9 1456.7,856.1 1461.9,875.1 1467.1,864.2 1472.3,840.3 1477.4,835.8 1482.6,851.2 1487.8,862.6 1492.8,854.8 1497.7,842.0 1503.4,845.9 1508.5,862.6 1513.5,870.3 1518.7,858.9 1523.9,841.1 1529.1,833.8 1534.3,851.2 1539.2,881.3 1544.6,901.2 1549.8,897.6 1554.8,880.5 1560.0,860.2 1565.3,847.6 1570.5,851.6 1575.5,867.8 1580.0,877.3 1585.9,866.4 1591.1,839.0 1596.3,818.7 1601.5,819.2 1606.5,833.8 1611.7,845.5 1616.9,850.1 1622.0,859.4 1627.2,874.0 1632.4,883.3 1637.5,882.0 1642.7,870.0 1647.9,854.2 1653.1,851.2 1658.1,863.4 1663.3,878.1 1668.4,882.1 1673.6,876.5 1678.6,872.9 1683.8,875.6 1689.0,870.0 1694.2,853.4 1699.3,839.8 1704.5,833.8 1709.7,838.2 1714.8,846.0 1720.0,847.2 1725.3,842.3 1730.5,845.5 1735.6,858.9 1740.8,868.3 1746.0,859.9 1751.0,842.8 1756.3,840.3 1761.5,862.6 1766.7,885.7 1771.7,876.8 1776.9,847.2 1782.1,839.8 1787.2,866.7 1792.4,893.9 1797.6,889.8 1802.8,856.9 1807.8,830.4 1813.4,833.8 1818.4,864.2 1823.5,887.0 1828.7,872.4 1833.7,848.8 1838.9,852.0 1844.1,873.7 1849.3,879.7 1854.4,865.1 1859.6,852.0 1864.8,854.8 1869.9,862.5 1875.1,857.9 1880.3,837.7 1885.3,822.8 1890.8,835.0 1896.1,861.3 1900.9,869.5 1906.0,852.9 1911.2,835.8 1916.6,843.4 1921.8,869.1 1926.8,891.1 1932.0,888.3 1937.1,873.5 1942.2,867.8 1947.4,870.4 1952.6,866.4 1957.7,854.0 1962.9,844.4 1968.1,845.5 1973.4,852.5 1978.5,857.7 1983.5,855.0 1988.7,845.5 1993.9,841.8 1999.2,850.7 2004.4,862.6 2009.4,867.0 2014.6,863.8 2019.8,863.1 2025.0,868.0 2030.1,872.9 2035.3,870.0 2040.5,859.9 2045.5,853.2 2050.7,854.5 2055.9,859.9 2061.0,864.2 2066.2,867.0 2071.1,867.5 2076.5,865.4 2081.7,860.7 2086.9,854.0 2091.9,850.9 2097.1,854.5 2102.3,858.5 2107.7,858.2 2112.6,852.9"/>
<polyline class="g" points="304.3,981.5 309.4,981.4 314.5,981.3 320.2,982.5 325.3,983.1 330.4,981.9 336.2,979.3 341.9,977.7 346.3,978.2 352.1,981.0 357.1,982.9 362.2,982.2 367.3,980.5 371.6,980.2 377.4,981.5 382.5,981.3 388.2,979.3 393.3,978.3 398.4,978.6 403.4,980.0 407.8,980.2 413.6,978.6 418.3,977.3 423.0,979.0 428.8,982.5 433.8,983.8 438.9,981.6 444.7,979.0 449.0,978.9 454.1,980.0 459.1,980.3 466.4,979.5 472.1,980.0 479.4,981.3 485.2,980.8 491.0,979.0 495.7,978.3 501.1,979.3 506.9,980.8 511.9,981.3 518.4,980.5 523.5,980.0 527.9,981.0 532.9,982.9 537.2,983.6 542.3,981.9 548.1,979.3 553.2,978.6 558.2,979.6 563.3,981.5 568.4,982.8 573.4,981.9 578.5,979.6 583.5,979.3 588.6,981.5 593.7,984.1 598.7,984.4 603.8,982.2 609.6,980.0 614.6,980.5 619.7,981.0 625.2,978.5 630.2,978.2 635.3,981.9 640.8,985.9 645.9,984.3 651.2,980.1 656.3,978.5 661.4,980.1 666.4,969.6 671.5,957.3 676.7,955.8 681.9,991.3 687.1,1024.5 692.5,1010.8 697.4,959.4 702.6,932.7 708.1,960.9 713.0,1010.1 718.1,1022.1 723.3,985.5 728.5,947.9 733.7,958.3 738.8,995.6 744.0,1008.6 749.2,979.7 754.2,951.2 759.6,960.9 764.6,993.1 769.9,1001.1 775.1,974.6 780.1,955.8 785.3,971.7 790.4,1001.8 795.6,1007.2 800.8,986.2 805.9,972.2 811.1,982.6 816.3,998.2 821.5,988.8 826.6,957.3 831.8,940.6 837.0,956.8 842.2,988.4 847.2,1000.2 852.5,987.2 857.7,972.5 862.9,972.5 867.9,986.9 873.1,1001.1 878.4,1003.6 883.4,991.3 888.6,976.5 893.8,973.2 899.0,985.5 904.1,1001.4 909.3,1010.1 914.5,999.2 919.6,969.6 924.8,932.4 929.7,927.2 935.2,968.1 940.2,1011.2 945.6,1000.7 950.7,940.6 955.7,915.3 961.2,965.2 966.0,1033.2 971.2,1042.2 976.4,982.6 981.5,927.2 986.8,941.1 991.9,998.5 997.1,1033.9 1002.3,1013.0 1007.5,974.2 1012.6,973.5 1017.8,1002.8 1022.9,1014.0 1028.1,981.1 1033.1,948.3 1038.5,951.2 1043.5,983.3 1048.8,998.2 1054.0,973.9 1059.0,943.5 1064.4,945.0 1069.4,976.8 1074.5,1004.3 1079.9,996.6 1084.9,967.4 1090.1,955.5 1095.3,976.8 1100.4,1009.6 1105.6,1026.3 1110.8,1016.3 1115.9,997.8 1121.1,989.8 1126.3,989.4 1131.5,982.6 1136.6,972.2 1141.8,965.9 1147.0,968.5 1152.2,969.1 1157.2,955.8 1162.5,930.5 1167.7,913.6 1172.9,924.3 1177.9,956.5 1183.2,988.8 1188.3,1000.2 1193.4,998.8 1198.6,1001.4 1203.8,1008.9 1209.0,1012.5 1214.1,1008.6 1219.3,1003.7 1224.5,1004.0 1229.6,1006.2 1234.7,1003.0 1239.8,991.2 1245.0,979.6 1250.3,977.0 1255.4,981.6 1260.5,981.8 1265.6,971.9 1270.9,961.3 1276.2,961.1 1281.3,970.4 1286.6,978.4 1291.6,975.9 1296.7,968.4 1302.0,963.5 1306.9,963.5 1312.2,967.2 1317.5,974.5 1322.8,983.1 1327.7,989.2 1333.1,993.2 1338.2,995.3 1343.3,993.2 1348.6,984.7 1353.7,970.9 1359.0,957.2 1363.9,954.6 1369.2,966.4 1374.4,980.6 1379.5,989.6 1384.6,990.6 1389.7,991.8 1395.0,997.7 1400.3,1002.8 1405.4,998.9 1410.5,988.8 1415.5,981.0 1420.6,980.6 1425.9,984.1 1431.0,982.9 1436.3,977.0 1441.6,972.5 1446.7,972.9 1451.8,975.7 1456.8,976.3 1461.9,972.5 1467.2,968.2 1472.3,969.8 1477.6,975.9 1482.9,982.0 1488.0,982.2 1493.0,978.6 1498.1,977.0 1503.2,979.4 1508.5,982.7 1513.8,984.9 1518.9,985.5 1524.0,985.3 1529.0,984.5 1534.1,982.2 1539.4,978.8 1544.7,976.8 1549.8,977.4 1555.1,979.4 1560.2,981.2 1565.7,982.7 1570.8,983.1 1575.8,982.9 1580.9,982.7 1586.0,982.7 1591.1,981.8 1596.2,980.8 1601.7,981.2 1606.8,982.2 1612.0,981.8 1617.1,980.0 1622.2,979.0 1627.3,979.8 1632.8,981.8 1637.9,983.5 1643.0,984.1 1648.1,984.1 1653.2,984.5 1658.2,984.7 1663.3,983.3 1668.8,980.2 1674.1,977.6 1679.2,976.8 1684.2,977.4 1689.3,978.8 1694.4,979.0 1699.5,978.0 1704.6,976.6 1710.1,975.1 1715.2,974.1 1720.5,975.1 1725.5,977.6 1730.6,979.4 1735.7,979.4 1740.8,978.8 1745.9,979.4 1751.4,981.0 1756.5,983.3 1761.5,985.1 1766.6,984.7 1771.7,982.2 1776.8,981.0 1781.9,982.7 1787.4,984.9 1792.5,984.1 1797.5,981.6 1802.8,980.0 1807.9,980.6 1813.0,982.0 1818.1,982.4 1823.6,981.0 1828.7,979.4 1833.8,978.4 1838.8,978.0 1843.9,978.4 1849.0,979.8 1854.5,980.8 1859.6,980.0 1864.7,978.8 1870.0,979.6 1875.1,981.6 1880.2,981.8 1885.6,979.8 1890.7,978.2 1895.8,978.0 1900.9,978.6 1906.0,979.4 1911.1,979.2 1916.6,979.6 1921.7,981.4 1926.7,983.5 1932.0,983.7 1937.1,983.1 1942.6,983.3 1947.7,983.7 1952.8,983.5 1957.9,982.9 1963.0,981.2 1968.0,979.0 1973.1,978.2 1978.6,979.8 1983.7,981.8 1988.8,981.8 1994.1,981.0 1999.2,981.6 2004.7,983.1 2009.7,982.4 2014.8,979.6 2019.9,977.8 2025.0,978.8 2030.1,980.4 2035.6,980.8 2040.7,980.2 2046.0,979.0 2051.0,977.6 2056.1,977.0 2061.2,977.8 2066.7,979.4 2071.8,980.6 2076.9,981.0 2082.0,980.4 2087.0,979.6 2092.1,979.0 2097.2,980.0 2102.3,980.6 2107.5,980.6 2112.7,980.6"/>
<polyline class="g" points="304.3,1103.0 309.4,1100.8 315.2,1096.5 320.2,1096.1 325.3,1099.1 330.4,1101.7 336.2,1103.4 341.2,1103.7 346.3,1103.7 351.4,1105.2 356.7,1106.0 361.5,1102.3 366.8,1097.1 371.9,1097.6 377.0,1100.8 382.5,1102.7 387.5,1101.8 392.6,1100.2 398.1,1100.2 403.4,1103.7 408.8,1106.9 413.6,1105.5 418.6,1101.3 424.1,1098.9 429.0,1099.8 434.2,1103.0 439.2,1106.6 444.4,1107.0 449.4,1103.0 454.8,1100.0 459.9,1101.3 464.9,1104.3 470.4,1106.0 475.5,1104.4 480.5,1100.1 485.9,1097.6 491.0,1100.2 496.0,1102.6 501.1,1100.5 506.6,1098.7 511.6,1099.4 517.0,1101.6 522.1,1104.4 527.1,1105.2 532.2,1100.8 537.4,1096.5 542.6,1097.6 547.7,1102.0 552.9,1104.2 557.9,1103.4 563.3,1103.0 568.4,1105.2 573.6,1106.9 578.8,1103.4 583.8,1097.6 589.0,1095.9 594.2,1099.1 599.3,1103.7 604.5,1105.6 609.6,1104.4 614.8,1103.0 619.7,1101.8 625.2,1101.1 631.0,1102.3 636.0,1101.4 640.8,1100.0 646.2,1101.4 651.2,1105.5 656.4,1109.4 661.6,1108.1 666.7,1101.1 671.9,1094.2 677.0,1090.3 682.2,1115.6 687.4,1139.5 692.6,1128.6 697.5,1072.2 702.7,1035.0 708.4,1070.8 713.1,1142.8 718.5,1160.0 723.7,1104.0 728.6,1042.1 734.0,1063.5 739.0,1132.7 744.1,1155.4 749.3,1108.4 754.4,1052.2 760.0,1073.6 764.9,1144.5 770.0,1167.2 775.2,1111.3 780.3,1042.8 785.8,1057.7 790.7,1133.2 795.9,1165.9 801.1,1114.2 806.0,1056.6 811.7,1068.6 816.7,1126.9 821.8,1144.2 827.0,1096.8 831.9,1036.9 837.6,1056.7 842.5,1125.4 847.5,1154.9 852.8,1114.2 857.8,1066.4 863.2,1075.1 868.2,1125.7 873.4,1149.6 878.6,1121.4 883.7,1085.5 888.9,1087.1 894.1,1115.3 899.2,1127.2 904.4,1104.0 909.5,1080.2 915.0,1084.9 919.9,1102.6 924.9,1101.9 929.7,1092.5 935.3,1098.2 940.5,1113.9 945.8,1105.8 950.8,1072.2 956.0,1059.6 961.4,1096.8 966.3,1137.6 971.6,1134.7 976.7,1092.5 981.8,1069.7 987.0,1088.8 992.0,1119.5 997.4,1125.0 1002.5,1102.6 1007.7,1089.3 1012.9,1111.3 1018.1,1134.4 1023.3,1130.4 1028.3,1103.3 1033.6,1089.6 1038.8,1101.6 1043.8,1116.3 1049.0,1111.3 1054.2,1088.8 1059.3,1073.9 1064.7,1079.9 1069.7,1096.8 1074.9,1102.9 1080.0,1091.0 1085.2,1080.4 1090.6,1088.1 1095.6,1111.3 1100.7,1132.5 1105.9,1135.9 1111.1,1123.6 1116.2,1113.7 1121.4,1113.4 1126.6,1115.6 1131.7,1109.1 1136.8,1097.5 1142.1,1091.7 1147.1,1092.2 1152.3,1090.0 1157.4,1080.4 1162.6,1063.5 1167.8,1055.1 1173.0,1067.4 1178.2,1091.3 1183.3,1105.5 1188.5,1108.1 1193.7,1109.1 1198.8,1116.6 1204.0,1127.2 1209.2,1129.6 1214.4,1119.9 1219.5,1110.8 1225.0,1114.4 1229.6,1125.7 1235.1,1132.0 1240.2,1121.4 1245.3,1107.2 1250.3,1099.6 1255.4,1096.6 1260.5,1091.3 1266.0,1085.6 1271.3,1086.2 1276.4,1092.5 1281.7,1098.2 1286.6,1097.6 1292.0,1092.9 1297.1,1091.9 1302.2,1095.6 1307.3,1097.8 1312.4,1095.6 1317.5,1093.5 1322.8,1096.0 1327.8,1102.5 1333.3,1107.6 1338.4,1107.6 1343.5,1106.1 1348.6,1107.0 1353.7,1105.9 1359.0,1100.6 1364.3,1095.4 1369.3,1094.9 1374.4,1101.7 1379.5,1109.2 1384.8,1112.9 1390.1,1112.6 1395.2,1112.2 1400.5,1111.6 1405.6,1109.6 1410.7,1105.1 1415.7,1100.8 1420.8,1099.4 1425.9,1100.6 1431.4,1102.5 1436.5,1102.1 1441.6,1099.8 1446.7,1099.0 1451.8,1101.1 1456.8,1100.4 1461.9,1096.0 1467.4,1093.5 1472.5,1096.4 1477.8,1100.0 1482.9,1103.1 1488.0,1104.5 1493.5,1103.9 1498.5,1101.7 1503.6,1099.8 1509.1,1099.0 1514.2,1100.0 1519.3,1103.1 1524.4,1105.5 1529.5,1105.7 1534.5,1103.5 1539.8,1102.5 1544.9,1105.1 1550.0,1104.5 1555.5,1100.0 1560.6,1099.4 1565.7,1102.1 1570.8,1101.7 1576.2,1099.8 1581.3,1101.1 1586.4,1104.1 1591.5,1105.7 1596.8,1106.3 1601.9,1107.0 1607.0,1105.7 1612.5,1101.1 1617.5,1096.4 1622.6,1097.4 1627.7,1102.1 1632.8,1100.0 1637.9,1094.1 1643.0,1097.0 1648.5,1106.1 1653.5,1112.4 1658.6,1111.2 1663.9,1106.1 1669.0,1102.1 1674.1,1101.9 1679.2,1101.7 1684.2,1099.4 1689.3,1097.0 1694.4,1097.8 1699.9,1102.1 1705.0,1105.3 1710.1,1103.1 1715.4,1096.0 1720.5,1092.3 1725.5,1098.0 1731.0,1105.5 1736.1,1106.3 1741.2,1100.4 1746.3,1098.4 1751.4,1101.7 1756.9,1103.9 1762.0,1100.0 1767.0,1095.6 1772.1,1096.6 1777.4,1104.1 1782.5,1111.6 1787.6,1110.2 1792.7,1103.5 1797.8,1099.8 1803.2,1103.1 1808.3,1106.5 1813.4,1105.7 1818.9,1101.3 1824.0,1099.8 1829.1,1103.1 1834.4,1105.1 1839.5,1102.7 1844.5,1099.2 1849.6,1096.8 1854.7,1098.6 1860.2,1105.7 1865.3,1107.8 1870.4,1100.6 1875.9,1094.3 1881.0,1096.4 1886.0,1101.5 1891.1,1104.5 1896.2,1103.1 1901.3,1098.0 1906.6,1092.5 1911.7,1096.4 1917.2,1106.5 1922.3,1111.2 1927.3,1105.5 1932.4,1099.2 1937.5,1101.1 1943.0,1110.2 1948.1,1113.9 1953.2,1106.1 1958.5,1094.9 1963.6,1093.1 1968.6,1101.5 1973.7,1110.2 1979.2,1110.8 1984.3,1103.5 1989.4,1097.8 1994.5,1101.5 2000.0,1108.4 2005.1,1106.7 2010.1,1096.4 2015.2,1089.3 2020.3,1096.6 2025.6,1107.4 2030.7,1109.2 2036.2,1103.1 2041.3,1099.0 2046.4,1101.1 2051.4,1107.0 2056.5,1107.8 2061.6,1101.5 2066.7,1096.6 2071.8,1101.1 2077.3,1105.7 2082.4,1103.1 2087.4,1097.0 2092.9,1098.0 2097.8,1107.2 2102.9,1112.4 2108.0,1107.2 2112.7,1100.4"/>
<polyline class="g" points="304.3,1226.0 310.1,1227.2 315.9,1228.6 320.2,1229.1 325.3,1229.4 330.4,1228.6 335.6,1225.5 340.8,1221.4 346.0,1220.7 351.4,1224.3 356.4,1225.8 361.6,1220.0 366.8,1215.9 372.0,1220.0 377.1,1224.6 382.5,1225.0 387.5,1222.9 392.6,1220.7 398.4,1220.0 403.4,1222.6 408.5,1227.2 413.6,1227.9 418.6,1225.3 423.7,1224.3 428.8,1225.0 434.2,1226.0 439.2,1224.8 444.7,1222.1 449.7,1220.7 454.8,1219.7 459.9,1219.2 464.9,1220.7 470.4,1224.3 475.5,1223.6 480.5,1218.5 485.9,1216.4 491.0,1223.6 496.0,1233.3 501.4,1235.9 506.6,1223.6 511.6,1210.6 517.0,1212.0 522.1,1229.4 527.1,1242.1 532.5,1233.0 537.5,1215.6 542.8,1210.9 547.8,1222.9 552.9,1235.9 558.2,1231.5 563.3,1216.4 568.4,1211.0 573.6,1220.7 578.8,1231.3 583.8,1230.1 589.0,1222.9 594.4,1223.2 599.5,1229.8 604.7,1230.5 609.6,1222.9 614.8,1216.8 619.7,1220.0 625.2,1229.1 630.4,1232.4 635.6,1225.5 640.8,1216.8 646.0,1217.2 651.2,1224.8 656.4,1229.8 661.6,1227.9 666.7,1218.2 671.9,1209.3 677.1,1208.8 682.2,1238.5 687.4,1268.2 692.6,1254.4 697.5,1198.0 702.9,1160.7 708.4,1190.8 713.1,1259.5 718.5,1282.6 723.7,1224.0 728.6,1170.5 734.0,1189.3 739.0,1254.4 744.2,1277.6 749.3,1222.6 754.4,1156.8 760.0,1168.3 764.9,1242.8 770.0,1285.2 775.2,1254.4 780.3,1195.4 785.8,1201.6 790.7,1249.3 795.9,1266.4 801.1,1229.8 806.2,1193.2 811.7,1203.8 816.7,1239.7 821.8,1242.5 827.0,1199.4 832.1,1170.9 837.6,1195.8 842.5,1248.6 847.5,1261.4 852.8,1228.4 858.0,1201.2 863.2,1216.5 868.2,1255.1 873.4,1265.0 878.6,1234.2 883.7,1205.2 888.9,1220.0 894.1,1252.2 899.2,1252.0 904.4,1216.8 909.5,1188.6 915.0,1194.4 919.9,1220.4 925.1,1236.3 929.7,1233.0 935.3,1213.9 940.5,1200.9 945.8,1200.9 950.8,1215.3 956.0,1229.4 961.4,1232.7 966.4,1219.7 971.6,1203.3 976.9,1202.6 981.9,1222.6 987.0,1245.3 992.2,1251.2 997.4,1237.8 1002.6,1224.8 1007.7,1216.8 1012.9,1245.7 1018.1,1256.3 1023.3,1243.6 1028.3,1218.2 1033.6,1207.4 1038.8,1218.2 1043.8,1231.3 1049.0,1227.2 1054.2,1209.6 1059.3,1197.7 1064.7,1200.2 1069.7,1207.1 1074.9,1209.6 1080.0,1208.8 1085.2,1216.4 1090.4,1236.3 1095.6,1255.6 1100.7,1259.8 1105.9,1253.0 1111.1,1243.8 1116.2,1237.5 1121.4,1235.3 1126.6,1232.7 1131.7,1223.0 1136.8,1210.7 1142.1,1200.5 1147.1,1193.6 1152.3,1189.8 1157.4,1186.1 1162.6,1183.5 1167.8,1186.4 1173.0,1197.6 1178.2,1216.8 1183.3,1236.0 1188.5,1247.9 1193.7,1251.2 1198.8,1249.6 1204.0,1249.1 1209.2,1252.5 1214.4,1256.3 1219.5,1253.7 1224.7,1245.3 1229.6,1238.5 1235.2,1234.4 1240.4,1229.2 1245.6,1219.4 1250.8,1209.3 1256.0,1204.4 1261.2,1204.9 1266.3,1204.8 1271.5,1202.5 1276.7,1203.9 1281.8,1212.9 1287.0,1221.5 1291.8,1223.1 1297.0,1219.9 1302.3,1218.3 1307.5,1221.8 1312.7,1227.2 1317.7,1230.0 1322.8,1226.7 1328.0,1223.5 1333.2,1225.6 1338.4,1229.5 1343.4,1228.3 1348.6,1223.5 1353.8,1218.6 1359.1,1214.5 1364.3,1215.0 1369.5,1221.5 1374.5,1230.8 1379.7,1237.3 1384.9,1240.1 1390.1,1239.3 1395.2,1236.8 1400.4,1233.9 1405.6,1228.3 1410.7,1220.2 1415.9,1216.1 1421.1,1219.4 1426.3,1223.1 1431.5,1221.8 1436.7,1217.8 1441.6,1215.7 1446.8,1219.4 1452.0,1225.6 1457.2,1226.4 1462.4,1221.0 1467.6,1217.0 1472.8,1219.4 1477.9,1222.7 1483.1,1224.0 1488.3,1223.6 1493.3,1222.7 1498.5,1220.2 1503.7,1218.3 1509.0,1220.2 1514.2,1224.8 1519.4,1227.5 1524.6,1227.5 1529.8,1228.3 1535.0,1229.3 1540.0,1228.0 1545.2,1225.9 1550.5,1224.3 1555.5,1222.7 1560.7,1221.8 1565.9,1222.7 1571.1,1225.6 1576.2,1228.0 1580.0,1226.7 1586.2,1223.3 1591.4,1224.0 1596.6,1226.6 1601.8,1227.2 1607.0,1224.3 1612.2,1220.5 1617.4,1220.2 1622.6,1224.0 1627.8,1227.7 1632.9,1226.7 1638.1,1224.0 1643.3,1221.8 1648.3,1221.2 1653.6,1223.5 1658.8,1227.9 1663.8,1230.0 1669.0,1227.0 1674.2,1223.1 1679.3,1220.7 1684.5,1219.7 1689.7,1219.9 1694.9,1221.0 1700.1,1222.0 1705.3,1222.2 1710.4,1219.4 1715.6,1215.0 1720.8,1215.7 1726.0,1221.8 1731.0,1227.5 1736.2,1229.2 1741.5,1228.7 1746.5,1225.4 1751.7,1220.5 1756.9,1215.3 1762.0,1213.7 1767.2,1222.3 1772.4,1236.2 1777.6,1243.0 1782.6,1236.5 1787.8,1222.7 1792.9,1211.8 1798.1,1215.3 1803.3,1229.2 1808.5,1237.0 1813.7,1231.9 1818.8,1224.0 1824.0,1221.4 1829.0,1220.7 1834.2,1217.3 1839.4,1215.3 1844.6,1219.4 1849.8,1225.6 1855.0,1228.3 1860.2,1222.7 1865.3,1213.7 1870.5,1212.6 1875.7,1224.3 1880.8,1235.2 1886.0,1234.0 1891.2,1221.5 1896.2,1212.1 1901.4,1215.8 1906.6,1226.7 1911.7,1234.0 1916.9,1230.8 1922.1,1222.3 1927.3,1216.1 1932.3,1217.3 1937.6,1224.8 1942.8,1231.6 1948.0,1234.5 1953.2,1234.0 1958.5,1229.7 1963.7,1221.0 1968.7,1212.4 1973.9,1215.3 1979.1,1230.3 1984.2,1245.1 1989.4,1241.4 1994.6,1220.2 1999.5,1202.6 2004.8,1204.8 2010.0,1226.2 2015.1,1238.9 2020.3,1221.8 2025.5,1199.5 2030.9,1203.6 2035.8,1228.3 2041.0,1243.3 2046.2,1228.3 2051.2,1204.8 2056.4,1202.0 2061.7,1222.7 2066.8,1245.4 2072.1,1245.8 2077.1,1228.3 2082.2,1217.8 2087.4,1225.6 2092.6,1236.5 2097.8,1233.6 2102.8,1220.2 2108.0,1210.1 2112.6,1212.4"/>
<polyline class="g" points="304.3,1346.1 309.4,1347.0 314.5,1345.8 320.2,1344.8 324.6,1344.1 329.7,1345.8 335.4,1347.3 341.2,1346.3 346.3,1344.8 350.6,1344.7 355.7,1345.5 360.8,1345.8 366.6,1345.1 371.6,1344.4 376.7,1344.7 382.5,1346.4 388.2,1347.3 394.0,1346.7 401.3,1345.1 407.8,1343.9 414.3,1343.7 421.5,1344.1 428.8,1345.4 434.5,1345.8 439.6,1345.6 444.7,1345.4 449.7,1345.4 454.8,1345.5 459.1,1346.0 463.5,1346.6 469.3,1346.8 476.5,1346.1 483.7,1345.5 491.0,1346.7 496.8,1347.1 504.0,1346.1 511.2,1344.4 516.3,1343.9 521.3,1344.8 527.1,1346.3 531.5,1346.6 537.2,1345.4 543.0,1343.5 547.4,1343.2 552.4,1345.1 557.5,1346.8 562.6,1346.6 567.6,1345.1 572.7,1344.8 577.8,1345.8 583.5,1347.0 588.6,1346.8 593.7,1345.7 598.7,1345.2 603.8,1346.3 609.6,1347.6 614.6,1347.0 619.7,1345.5 624.9,1345.0 630.2,1345.7 635.3,1347.3 640.4,1347.6 645.4,1346.4 650.8,1345.3 655.9,1346.6 660.8,1349.3 666.0,1344.0 671.0,1323.0 676.3,1310.7 681.3,1340.3 686.5,1387.8 691.9,1394.2 696.8,1343.2 702.0,1287.3 707.4,1303.5 712.4,1370.7 717.5,1412.0 722.7,1375.1 727.9,1308.5 733.1,1300.9 738.2,1347.6 743.2,1383.7 748.6,1357.7 753.6,1309.2 759.0,1303.2 764.1,1349.0 769.1,1379.7 774.5,1357.0 779.5,1315.0 784.9,1317.5 790.0,1362.0 795.0,1391.4 800.4,1373.6 805.4,1337.2 810.6,1330.5 815.9,1353.4 820.9,1364.5 826.1,1341.8 831.3,1308.5 836.5,1310.0 841.8,1341.8 846.8,1365.2 852.0,1361.3 857.1,1341.5 862.3,1332.0 867.5,1343.2 872.7,1362.8 877.8,1370.0 883.0,1361.3 888.2,1345.0 893.2,1337.7 898.6,1347.6 903.7,1367.8 908.9,1381.6 914.1,1369.3 919.3,1331.7 924.4,1286.4 929.7,1288.6 934.5,1341.8 939.7,1385.2 945.0,1362.8 950.0,1299.1 955.1,1278.1 960.5,1333.1 965.6,1399.7 970.8,1401.8 975.8,1341.8 981.0,1293.3 986.3,1315.8 991.3,1369.3 996.5,1389.2 1001.7,1364.9 1006.8,1343.0 1012.0,1349.8 1017.2,1373.2 1022.4,1362.3 1027.5,1329.5 1032.5,1314.6 1037.9,1334.6 1043.0,1359.2 1048.2,1353.7 1053.2,1327.0 1058.4,1313.9 1063.7,1328.8 1069.0,1350.9 1074.1,1358.0 1079.1,1343.2 1084.3,1327.6 1089.5,1329.5 1094.8,1347.6 1099.8,1365.7 1105.0,1378.7 1110.2,1381.6 1115.3,1374.3 1120.5,1362.8 1125.7,1352.2 1130.9,1345.7 1136.0,1344.3 1141.2,1344.0 1146.4,1338.6 1151.6,1326.2 1156.7,1307.8 1161.9,1294.8 1167.1,1293.8 1172.3,1305.9 1177.5,1324.4 1182.6,1340.3 1187.8,1349.8 1193.0,1357.0 1198.0,1365.2 1203.2,1371.0 1208.5,1372.9 1213.7,1371.7 1218.7,1372.5 1223.9,1374.1 1229.2,1372.2 1234.9,1364.2 1239.8,1356.4 1245.0,1351.7 1250.0,1348.8 1255.2,1343.9 1260.4,1337.4 1265.5,1332.0 1270.7,1331.9 1275.9,1334.9 1280.9,1336.7 1286.2,1335.8 1291.4,1334.1 1296.4,1332.5 1301.6,1331.4 1306.8,1331.2 1311.9,1333.3 1317.1,1338.7 1322.1,1346.0 1327.3,1352.9 1332.5,1357.2 1337.7,1358.2 1343.0,1355.3 1348.2,1348.8 1353.2,1339.8 1358.6,1331.2 1363.5,1328.1 1368.7,1333.3 1373.9,1343.1 1379.1,1352.9 1384.3,1358.5 1389.5,1359.9 1394.5,1359.0 1399.8,1358.5 1405.0,1356.9 1410.0,1351.6 1415.2,1344.7 1420.4,1343.1 1425.6,1346.7 1430.7,1349.3 1435.9,1346.0 1441.1,1339.0 1446.3,1334.9 1451.3,1336.6 1456.5,1340.6 1461.8,1341.5 1467.0,1338.5 1472.2,1337.1 1477.4,1341.9 1482.3,1348.5 1487.5,1349.6 1492.7,1345.0 1497.7,1341.5 1502.9,1343.1 1508.1,1346.8 1513.2,1349.3 1518.4,1349.3 1523.6,1348.5 1528.8,1348.8 1534.0,1348.8 1539.2,1346.0 1544.4,1340.6 1549.6,1337.6 1554.8,1340.0 1560.0,1345.0 1565.3,1347.5 1570.1,1346.3 1575.3,1345.5 1580.0,1347.6 1585.7,1350.1 1589.8,1349.9 1595.0,1346.8 1600.2,1345.5 1605.4,1347.5 1610.9,1349.3 1616.1,1348.1 1621.5,1344.4 1626.7,1342.6 1631.8,1344.4 1637.0,1348.0 1641.8,1349.6 1647.0,1348.8 1652.3,1347.5 1657.5,1347.6 1662.7,1348.1 1667.9,1346.3 1673.1,1343.4 1678.3,1341.8 1683.5,1343.6 1688.7,1345.5 1693.9,1345.0 1699.1,1342.3 1704.2,1339.8 1709.4,1338.9 1714.6,1338.9 1720.0,1339.3 1724.8,1340.3 1730.0,1342.4 1735.3,1345.0 1740.5,1346.5 1745.5,1346.5 1750.7,1346.0 1755.8,1346.8 1761.0,1347.6 1766.2,1348.0 1771.4,1348.1 1776.6,1349.8 1781.8,1351.4 1786.7,1350.7 1791.9,1347.5 1797.1,1344.4 1802.3,1344.1 1807.5,1346.7 1812.7,1349.3 1817.6,1348.8 1822.8,1345.5 1828.0,1342.1 1833.1,1341.5 1838.3,1342.9 1843.5,1344.2 1848.5,1344.2 1853.7,1344.1 1859.0,1345.2 1864.2,1346.5 1869.4,1346.8 1874.6,1346.0 1879.8,1345.0 1884.8,1344.7 1890.0,1344.9 1895.2,1343.9 1900.3,1342.6 1905.5,1342.3 1910.7,1343.7 1915.9,1346.0 1921.0,1347.8 1926.2,1347.3 1931.5,1346.3 1936.4,1346.8 1942.5,1348.3 1947.4,1349.3 1952.6,1348.1 1957.7,1345.9 1962.9,1345.0 1968.1,1346.3 1973.4,1348.0 1978.3,1348.1 1983.5,1346.7 1988.7,1345.0 1993.9,1345.2 1999.0,1346.5 2004.2,1346.5 2009.4,1345.0 2014.6,1343.6 2019.8,1343.9 2024.9,1345.0 2030.1,1344.7 2035.3,1343.4 2040.5,1342.9 2045.7,1343.6 2050.7,1344.9 2055.9,1345.5 2061.3,1344.9 2066.2,1343.9 2071.4,1344.2 2076.6,1345.4 2081.7,1345.7 2086.9,1345.0 2092.2,1344.4 2097.1,1345.0 2102.3,1345.3 2107.4,1345.4 2112.6,1345.5"/>
<polyline class="s" points="304.3,1467.0 308.7,1463.5 314.5,1462.0 320.2,1465.1 326.0,1468.1 331.5,1466.7 336.9,1465.2 341.5,1466.3 346.1,1468.2 350.6,1469.3 356.4,1468.1 362.2,1467.0 366.6,1467.1 370.9,1467.4 375.2,1467.5 379.6,1467.1 383.9,1466.4 388.2,1466.0 392.6,1466.2 396.9,1466.7 401.3,1467.0 406.8,1466.2 412.4,1464.7 417.9,1463.9 423.0,1464.9 428.0,1466.6 433.1,1467.5 440.3,1467.0 445.4,1467.7 450.4,1468.4 455.4,1468.1 460.3,1467.5 465.2,1466.7 470.1,1466.1 475.1,1465.8 480.5,1467.1 485.9,1468.4 492.0,1466.8 498.2,1465.2 504.3,1466.3 510.5,1467.4 516.3,1466.0 522.1,1464.5 527.1,1466.0 532.2,1468.8 537.2,1470.3 542.3,1468.8 547.4,1466.1 552.4,1464.7 557.0,1465.8 561.6,1468.1 566.2,1469.3 571.2,1467.9 576.3,1465.2 581.4,1463.8 587.4,1464.9 593.4,1467.0 599.5,1468.1 604.3,1467.6 609.1,1466.5 613.9,1466.0 615.1,1466.4 620.5,1468.3 625.9,1469.5 629.5,1469.8 634.6,1469.5 639.7,1468.8 644.7,1468.0 651.2,1466.6 656.3,1467.3 661.4,1468.0 666.4,1452.4 671.6,1439.1 676.7,1440.5 681.9,1479.9 687.1,1521.8 692.3,1510.0 697.4,1448.0 702.6,1399.6 708.1,1423.5 713.0,1492.2 718.1,1524.4 723.4,1479.9 728.6,1433.6 733.7,1433.0 738.8,1476.3 744.0,1502.7 749.2,1472.7 754.2,1431.6 759.4,1431.8 764.6,1474.8 769.9,1506.6 775.1,1487.8 780.0,1451.0 785.3,1449.1 790.4,1479.6 795.6,1491.5 800.8,1466.9 805.9,1445.2 811.1,1454.3 816.1,1476.5 821.4,1477.3 826.6,1451.7 831.6,1434.3 837.0,1453.5 842.0,1486.8 847.2,1491.5 852.3,1468.0 857.5,1450.7 862.7,1464.7 867.9,1492.2 873.0,1498.4 878.4,1475.5 883.4,1455.7 888.6,1462.5 893.8,1482.5 898.9,1483.1 904.1,1459.6 909.2,1440.8 914.5,1442.6 919.6,1455.3 924.8,1464.7 929.7,1470.0 935.0,1468.6 940.2,1459.6 945.5,1448.0 950.5,1447.6 955.7,1464.0 960.9,1483.9 966.1,1487.1 971.2,1469.0 976.4,1452.0 981.6,1456.3 986.7,1477.7 991.9,1489.3 997.1,1475.5 1002.3,1456.0 1007.4,1458.9 1012.6,1482.8 1017.8,1499.7 1023.0,1484.9 1028.1,1455.7 1033.3,1445.2 1038.5,1460.3 1043.5,1477.7 1048.8,1470.8 1054.0,1447.6 1059.2,1439.1 1064.2,1453.8 1069.4,1468.7 1074.7,1462.8 1079.7,1445.9 1084.9,1445.5 1090.1,1471.2 1095.3,1495.5 1100.4,1503.3 1105.6,1492.9 1110.8,1483.5 1115.9,1482.2 1121.1,1483.6 1126.3,1478.7 1131.4,1466.9 1136.6,1454.6 1141.8,1448.8 1147.0,1448.0 1152.0,1444.2 1157.2,1435.0 1162.5,1429.2 1167.7,1433.9 1172.7,1444.4 1177.9,1455.7 1183.2,1465.4 1188.3,1475.2 1193.4,1485.7 1198.6,1495.1 1203.8,1497.2 1208.9,1491.7 1214.1,1484.9 1219.3,1482.5 1224.5,1483.2 1229.6,1483.8 1234.8,1480.6 1239.7,1471.9 1244.9,1464.3 1250.0,1458.7 1256.0,1455.1 1260.9,1454.5 1265.9,1455.5 1270.9,1458.8 1275.9,1461.4 1279.8,1461.4 1285.3,1459.0 1290.8,1456.7 1295.8,1458.5 1301.2,1462.5 1306.7,1465.4 1312.2,1463.4 1317.6,1461.4 1322.6,1462.4 1328.1,1468.3 1333.5,1473.4 1337.5,1473.0 1343.0,1467.8 1348.5,1462.0 1353.4,1460.6 1358.4,1461.7 1363.4,1464.0 1369.3,1468.4 1374.3,1473.8 1379.3,1478.3 1385.3,1480.3 1390.7,1478.8 1396.2,1476.5 1401.7,1475.5 1407.1,1474.4 1411.6,1471.9 1416.1,1469.0 1421.1,1466.8 1426.0,1464.4 1431.0,1460.5 1436.0,1457.5 1441.0,1456.9 1445.9,1457.8 1450.9,1459.0 1455.9,1459.4 1460.8,1459.8 1466.8,1462.0 1472.3,1466.1 1477.8,1470.0 1482.7,1471.4 1487.7,1468.3 1492.7,1464.4 1497.7,1463.4 1503.1,1466.3 1508.6,1469.8 1513.6,1470.6 1519.0,1469.5 1524.5,1468.4 1530.0,1469.4 1535.4,1470.4 1541.4,1470.4 1545.7,1469.0 1550.0,1466.4 1554.3,1465.0 1558.7,1465.8 1563.0,1467.4 1567.3,1468.2 1572.5,1467.7 1577.7,1466.7 1582.9,1465.7 1588.2,1465.2 1592.8,1465.9 1597.4,1467.3 1602.1,1468.2 1607.0,1468.5 1612.0,1468.7 1617.0,1468.8 1621.6,1468.2 1626.3,1467.0 1630.9,1466.4 1636.9,1467.2 1642.9,1468.6 1648.8,1469.4 1653.5,1469.2 1658.3,1468.8 1663.0,1468.2 1667.7,1467.6 1673.7,1466.0 1679.7,1464.8 1684.7,1465.1 1689.8,1465.7 1694.9,1466.0 1700.4,1465.2 1705.9,1464.0 1711.8,1463.3 1717.8,1463.0 1725.8,1464.0 1731.2,1466.8 1736.7,1469.4 1740.7,1469.8 1746.1,1467.4 1751.6,1465.0 1756.6,1465.6 1762.0,1467.9 1767.5,1469.8 1773.0,1469.2 1778.5,1468.6 1783.4,1469.7 1788.4,1470.8 1792.4,1470.6 1797.9,1467.3 1803.3,1464.2 1807.3,1464.2 1812.8,1466.5 1818.2,1468.8 1822.9,1467.8 1827.5,1466.0 1832.2,1465.0 1836.5,1466.2 1840.8,1468.3 1845.1,1469.4 1849.1,1469.4 1854.5,1467.7 1860.0,1465.8 1865.5,1465.7 1871.0,1465.6 1875.9,1464.4 1880.9,1461.5 1885.9,1459.5 1891.8,1461.9 1897.8,1464.4 1905.8,1464.2 1910.7,1465.6 1916.2,1468.5 1921.7,1471.4 1927.7,1473.0 1931.6,1472.4 1937.1,1469.3 1942.6,1466.8 1946.5,1468.0 1953.5,1472.8 1957.9,1474.0 1963.0,1468.9 1968.0,1463.4 1972.8,1463.0 1978.4,1469.4 1983.7,1473.4 1988.3,1470.4 1994.3,1463.4 1999.3,1460.8 2004.2,1464.8 2010.2,1470.2 2014.2,1470.6 2019.7,1466.3 2025.1,1462.0 2029.1,1464.0 2036.1,1469.6 2040.0,1470.6 2045.5,1467.2 2051.0,1463.8 2055.9,1464.6 2061.9,1467.6 2065.9,1468.6 2071.4,1465.3 2076.8,1462.0 2081.8,1462.0 2086.8,1466.8 2091.8,1471.6 2097.7,1470.0 2102.7,1465.8 2107.7,1462.6 2112.6,1464.4"/>
<polyline class="s" points="304.3,1468.3 309.6,1468.6 314.9,1468.9 320.2,1469.0 325.3,1468.6 330.5,1463.5 335.6,1458.2 341.1,1460.8 346.0,1471.9 350.9,1478.0 356.1,1470.5 361.5,1458.9 366.6,1457.7 371.9,1467.6 377.0,1473.0 382.2,1468.3 387.2,1462.5 392.6,1464.4 397.6,1472.6 402.7,1476.0 407.9,1469.7 413.3,1461.8 418.3,1461.5 423.5,1469.0 428.8,1471.8 433.8,1464.7 438.9,1457.7 444.2,1463.2 449.4,1472.6 454.6,1473.0 459.6,1461.8 464.6,1453.8 470.1,1460.3 475.3,1473.0 480.4,1477.0 485.6,1468.3 490.8,1459.6 495.9,1461.0 501.1,1470.0 506.1,1476.7 511.4,1474.1 516.6,1465.1 521.3,1463.9 526.7,1469.4 531.9,1471.5 537.2,1466.8 542.3,1463.5 547.4,1466.1 552.6,1470.0 557.5,1469.4 563.0,1465.7 568.1,1464.4 573.3,1467.6 578.5,1470.0 583.5,1466.1 588.8,1460.2 594.1,1463.2 599.2,1471.2 604.2,1473.6 609.6,1464.7 614.8,1454.5 619.7,1456.3 624.9,1469.6 630.0,1477.1 635.3,1470.6 640.4,1463.1 645.6,1461.9 650.8,1467.4 655.9,1473.9 660.9,1478.3 666.1,1463.8 671.3,1442.5 676.5,1447.5 681.8,1487.0 687.0,1521.4 692.3,1502.6 697.4,1442.1 702.4,1399.9 707.9,1424.8 712.9,1485.5 717.9,1509.1 723.3,1475.4 728.3,1431.3 733.5,1438.5 738.8,1485.8 743.8,1509.5 749.0,1475.4 754.1,1434.2 759.3,1441.1 764.5,1486.7 769.6,1510.4 774.9,1482.6 780.0,1441.8 785.2,1441.5 790.2,1474.7 795.5,1489.6 800.7,1463.8 805.7,1433.4 811.1,1447.2 816.1,1489.4 821.4,1497.1 826.6,1458.0 831.6,1425.8 837.0,1446.5 842.0,1491.6 847.1,1502.2 852.3,1468.2 857.4,1435.6 862.7,1450.4 867.8,1493.8 873.0,1509.1 878.1,1476.8 883.1,1447.2 888.6,1458.0 893.7,1486.5 898.8,1490.1 904.0,1463.8 909.0,1449.3 914.2,1466.0 919.3,1480.9 924.6,1461.6 929.7,1437.8 935.0,1446.2 940.0,1477.8 945.2,1484.1 950.4,1446.5 955.4,1418.2 960.9,1437.8 965.9,1489.6 970.9,1506.2 976.3,1468.2 981.3,1433.4 986.7,1446.5 991.8,1487.0 996.8,1500.0 1002.0,1472.5 1007.2,1448.0 1012.4,1442.7 1017.6,1498.2 1022.7,1505.0 1027.9,1471.0 1033.0,1443.3 1038.3,1450.1 1043.4,1478.3 1048.5,1489.8 1053.7,1468.2 1058.9,1445.3 1064.1,1441.0 1069.2,1453.7 1074.4,1463.5 1079.6,1457.3 1084.6,1448.6 1090.0,1453.0 1095.0,1468.9 1100.2,1484.5 1105.5,1491.3 1110.5,1492.0 1115.7,1490.6 1120.9,1486.2 1126.2,1477.6 1131.2,1469.3 1136.4,1465.3 1141.6,1461.6 1146.8,1456.6 1151.9,1450.1 1157.1,1442.8 1162.3,1436.3 1167.4,1429.5 1172.6,1427.9 1177.8,1440.7 1183.0,1460.9 1188.1,1479.0 1193.3,1486.5 1198.5,1486.2 1203.5,1485.5 1208.8,1483.6 1214.0,1481.9 1219.0,1482.2 1224.2,1486.7 1229.4,1493.2 1234.5,1493.7 1239.8,1481.1 1244.7,1466.3 1249.9,1458.3 1255.2,1461.4 1260.5,1464.2 1265.6,1456.7 1270.7,1449.6 1275.8,1451.2 1281.1,1459.8 1286.3,1463.0 1291.4,1458.3 1296.5,1454.5 1301.6,1459.2 1306.9,1466.9 1312.0,1466.3 1317.1,1460.2 1322.4,1460.8 1327.5,1468.9 1332.7,1475.0 1337.8,1473.6 1343.1,1467.9 1348.2,1464.2 1353.3,1464.8 1358.6,1468.3 1363.7,1467.9 1369.0,1463.8 1374.0,1461.8 1379.1,1463.8 1384.4,1468.9 1389.5,1472.0 1394.8,1468.9 1399.9,1468.7 1405.0,1477.7 1410.2,1485.8 1415.1,1482.1 1420.4,1470.5 1425.7,1462.8 1430.8,1462.8 1436.1,1466.5 1441.2,1467.9 1446.5,1465.5 1451.5,1461.2 1456.6,1458.1 1461.9,1459.6 1467.0,1462.8 1472.1,1461.6 1477.4,1455.3 1482.5,1454.9 1487.5,1463.8 1492.8,1472.6 1497.9,1469.3 1503.2,1459.2 1508.3,1454.7 1513.6,1462.4 1518.7,1474.6 1523.8,1480.7 1529.0,1475.0 1534.1,1467.9 1539.2,1469.9 1544.5,1476.7 1549.6,1476.0 1554.9,1466.5 1560.0,1459.4 1565.1,1463.8 1570.3,1473.6 1575.4,1473.0 1580.7,1463.4 1585.8,1459.8 1590.9,1465.0 1596.2,1470.3 1601.3,1469.5 1606.4,1466.1 1611.7,1463.8 1616.7,1465.5 1622.0,1467.9 1627.1,1466.3 1632.2,1461.4 1637.5,1460.6 1642.6,1465.0 1647.9,1469.9 1652.9,1472.0 1658.0,1469.9 1663.3,1467.7 1668.4,1469.5 1673.7,1472.0 1678.5,1469.3 1683.8,1463.2 1688.9,1461.0 1694.0,1464.2 1699.5,1468.9 1704.2,1468.3 1709.7,1463.0 1714.8,1461.0 1719.8,1464.2 1724.9,1468.5 1730.0,1467.7 1735.1,1463.4 1740.4,1461.8 1745.7,1463.8 1751.4,1466.5 1756.5,1467.9 1761.5,1467.5 1767.2,1466.1 1771.7,1465.7 1776.4,1468.3 1781.9,1474.4 1787.2,1477.5 1792.1,1473.6 1797.5,1466.9 1802.6,1463.8 1808.3,1465.0 1813.4,1464.2 1818.5,1462.0 1823.2,1462.6 1828.7,1466.3 1833.8,1469.3 1838.8,1470.3 1843.9,1468.3 1849.4,1465.0 1854.1,1465.5 1859.6,1469.9 1864.7,1471.2 1869.8,1465.9 1875.1,1460.6 1880.0,1461.0 1885.2,1465.9 1890.7,1468.9 1896.8,1467.9 1904.0,1467.3 1911.1,1467.9 1916.6,1469.3 1921.7,1467.9 1926.7,1463.8 1932.0,1463.2 1937.1,1465.5 1942.6,1467.1 1947.7,1467.0 1952.8,1466.9 1957.9,1467.9 1963.3,1469.3 1968.6,1468.7 1973.7,1466.5 1978.8,1466.1 1984.3,1467.9 1989.4,1468.5 1994.5,1468.7 1999.6,1468.7 2004.7,1467.3 2009.7,1464.4 2014.8,1464.4 2019.9,1466.5 2025.0,1465.9 2030.1,1465.5 2035.6,1468.1 2040.7,1469.1 2046.0,1467.5 2051.4,1465.7 2056.5,1464.8 2064.7,1464.4 2071.8,1464.8 2076.5,1466.3 2081.6,1469.9 2087.0,1473.8 2092.1,1473.0 2097.2,1465.9 2102.3,1460.8 2107.4,1461.8 2112.7,1466.5"/>
<polyline class="s" points="304.3,1466.8 310.4,1466.7 316.4,1466.6 322.4,1466.6 328.9,1469.1 336.9,1471.1 341.9,1469.1 349.2,1464.5 354.2,1462.4 357.9,1462.7 363.6,1465.5 368.7,1467.6 373.8,1467.6 379.6,1465.9 383.2,1466.2 388.2,1467.6 392.6,1467.9 399.8,1466.5 404.2,1466.9 409.9,1468.8 415.0,1470.1 420.1,1468.8 425.9,1464.7 430.2,1463.0 435.3,1465.2 441.1,1468.1 446.1,1466.6 451.2,1463.9 455.5,1464.0 461.3,1467.2 466.4,1469.5 471.4,1469.2 477.2,1467.0 482.3,1465.9 487.3,1467.0 492.4,1468.5 497.5,1468.3 502.5,1466.9 508.3,1465.9 513.4,1466.9 518.4,1467.6 524.2,1466.6 529.3,1465.9 534.4,1465.9 539.4,1466.0 544.5,1466.2 549.5,1466.4 554.6,1466.8 559.7,1467.5 564.7,1468.2 570.5,1468.6 576.3,1467.9 581.4,1467.0 586.4,1466.3 591.5,1466.7 596.6,1467.3 603.8,1467.9 611.0,1467.0 615.4,1466.6 619.7,1466.3 620.9,1466.5 626.6,1469.5 631.7,1470.9 636.8,1469.0 642.1,1465.8 647.3,1465.1 652.4,1467.6 657.7,1470.2 662.8,1463.7 668.0,1439.1 673.2,1427.8 678.4,1455.0 683.5,1510.7 688.7,1533.5 693.9,1494.0 699.0,1415.6 704.3,1399.6 709.5,1462.2 714.5,1520.5 720.0,1512.8 724.9,1453.5 730.1,1422.7 735.3,1456.4 740.3,1503.2 745.5,1496.2 750.6,1443.4 755.8,1416.6 761.2,1449.2 766.2,1496.2 771.5,1498.1 776.6,1458.6 781.7,1440.2 786.9,1469.5 792.0,1502.0 797.3,1489.0 802.4,1449.6 807.6,1437.9 812.8,1467.3 817.9,1493.5 823.1,1473.8 828.3,1434.4 833.5,1431.8 838.6,1468.0 843.6,1498.4 849.0,1480.3 854.2,1443.7 859.3,1440.8 864.3,1476.7 869.5,1509.2 874.7,1496.5 880.0,1462.7 885.0,1454.5 890.2,1477.4 895.3,1493.3 900.5,1476.7 905.7,1448.5 910.9,1443.4 916.0,1459.0 921.2,1465.4 926.2,1456.7 929.7,1454.7 931.6,1453.2 936.6,1461.5 941.7,1464.0 946.9,1452.1 952.1,1442.7 957.3,1455.7 962.2,1481.0 967.6,1491.4 972.8,1472.3 977.9,1452.8 983.2,1458.2 988.3,1484.2 993.5,1494.8 998.7,1471.6 1003.9,1455.3 1009.1,1465.1 1014.2,1493.8 1019.4,1501.3 1024.6,1473.8 1029.7,1447.0 1035.0,1445.9 1040.1,1466.8 1045.1,1476.7 1050.3,1461.5 1055.5,1444.8 1060.8,1445.6 1065.8,1457.4 1071.2,1460.5 1076.2,1449.2 1081.3,1441.2 1086.7,1452.4 1091.7,1476.7 1096.8,1495.9 1102.0,1501.3 1107.2,1498.8 1112.4,1495.2 1117.5,1490.4 1122.7,1482.5 1127.9,1471.6 1133.1,1462.2 1138.2,1456.4 1143.4,1451.8 1148.6,1444.8 1153.6,1436.9 1158.8,1430.4 1164.0,1426.3 1169.1,1425.0 1174.3,1432.6 1179.5,1449.2 1184.6,1467.3 1189.8,1481.0 1195.0,1492.6 1200.2,1501.6 1205.3,1505.2 1210.5,1501.3 1215.7,1494.0 1220.9,1487.1 1226.0,1484.6 1230.0,1484.6 1236.1,1482.6 1241.2,1472.4 1246.7,1458.2 1252.0,1449.2 1256.8,1449.2 1262.1,1455.1 1267.2,1460.2 1272.3,1461.4 1276.6,1460.5 1280.9,1458.8 1289.0,1455.8 1294.1,1454.5 1299.2,1455.1 1304.2,1457.2 1309.3,1460.0 1314.4,1462.3 1319.5,1464.9 1324.6,1469.8 1329.7,1476.5 1334.8,1481.6 1339.9,1478.1 1344.9,1466.9 1350.0,1455.8 1355.1,1452.5 1360.2,1455.8 1365.3,1462.9 1370.8,1471.4 1375.9,1477.1 1381.0,1478.3 1386.2,1476.9 1391.3,1475.3 1396.4,1474.7 1401.5,1476.5 1407.0,1481.2 1412.1,1483.6 1417.2,1476.9 1422.2,1464.3 1427.3,1456.2 1432.4,1457.8 1437.5,1462.9 1442.6,1464.7 1447.7,1461.8 1453.4,1458.2 1458.5,1456.4 1463.5,1457.0 1469.0,1460.2 1474.1,1463.5 1479.2,1464.5 1484.3,1464.3 1489.4,1465.9 1494.9,1468.4 1500.0,1468.0 1505.0,1464.9 1510.3,1464.5 1515.4,1468.8 1520.5,1472.6 1525.6,1473.5 1531.1,1470.8 1536.2,1466.7 1541.3,1464.1 1546.3,1464.3 1551.4,1465.7 1556.9,1466.9 1561.8,1467.6 1566.7,1468.4 1572.2,1470.4 1577.3,1471.6 1582.3,1470.4 1587.4,1466.9 1592.7,1466.5 1597.8,1469.0 1603.3,1471.4 1608.4,1470.4 1613.5,1466.3 1618.6,1462.9 1624.1,1465.5 1629.1,1470.4 1634.2,1471.0 1639.3,1466.9 1644.6,1463.5 1649.7,1464.3 1655.2,1468.0 1660.3,1470.4 1665.3,1469.0 1670.8,1466.1 1676.1,1464.5 1682.2,1464.7 1688.3,1464.9 1693.4,1464.2 1698.5,1463.5 1704.6,1463.6 1710.7,1463.7 1716.8,1462.5 1722.3,1461.8 1727.4,1463.9 1732.7,1467.5 1737.7,1469.6 1742.8,1468.0 1747.9,1464.3 1753.0,1463.9 1758.1,1468.4 1763.6,1473.0 1768.3,1474.1 1773.8,1471.6 1778.8,1470.2 1783.9,1470.8 1789.0,1471.4 1794.1,1470.1 1799.2,1468.6 1804.3,1468.4 1809.3,1467.1 1814.4,1464.1 1819.5,1461.4 1825.0,1461.0 1830.1,1462.7 1835.8,1464.9 1840.9,1465.1 1846.0,1465.3 1851.1,1467.5 1856.1,1469.8 1861.2,1469.6 1866.3,1468.0 1871.4,1466.1 1876.9,1465.1 1882.0,1466.1 1887.1,1467.5 1892.2,1467.5 1897.8,1465.5 1902.9,1464.1 1908.0,1464.5 1913.1,1466.5 1918.2,1468.4 1923.3,1468.2 1928.8,1467.3 1933.9,1468.8 1938.9,1470.2 1944.0,1469.2 1949.3,1467.1 1954.4,1466.9 1959.9,1468.2 1965.0,1468.2 1970.1,1467.3 1975.2,1466.9 1980.2,1467.8 1985.3,1469.0 1990.8,1469.6 1995.9,1469.0 2003.6,1467.1 2009.7,1466.1 2015.8,1465.1 2021.5,1464.1 2026.6,1463.7 2031.7,1465.5 2036.8,1467.8 2041.9,1468.0 2047.4,1466.5 2052.5,1465.5 2057.6,1465.6 2062.6,1465.7 2067.7,1465.1 2072.8,1464.5 2077.9,1464.5 2083.0,1466.3 2088.7,1468.2 2093.8,1468.2 2098.8,1466.7 2103.4,1466.7 2108.1,1466.7 2112.7,1466.7"/>
<polyline class="s" points="304.3,1466.7 310.9,1468.2 317.4,1468.6 323.9,1467.6 331.8,1466.0 337.6,1466.5 343.4,1467.2 347.7,1466.7 353.5,1465.4 357.9,1465.2 363.6,1466.5 369.4,1467.3 375.2,1467.2 383.2,1466.6 388.2,1467.2 394.0,1467.6 398.4,1467.5 402.7,1467.3 409.9,1468.2 415.0,1467.3 420.1,1465.2 424.9,1464.1 430.2,1466.0 435.3,1468.0 439.6,1468.6 445.4,1467.0 450.4,1464.7 455.5,1463.7 460.6,1465.4 466.4,1467.8 471.4,1467.6 477.2,1466.7 481.9,1467.0 486.6,1467.3 492.4,1466.5 497.5,1465.3 502.5,1465.6 507.6,1467.0 511.9,1467.5 517.0,1466.5 522.8,1465.4 527.9,1466.7 532.9,1468.9 538.0,1469.6 543.0,1468.0 548.8,1465.4 553.9,1464.7 559.0,1465.7 564.0,1467.5 569.1,1468.2 574.1,1466.5 579.9,1465.0 584.3,1465.9 589.3,1467.3 596.6,1467.5 601.6,1467.8 606.7,1468.0 613.9,1467.3 619.7,1466.5 625.9,1465.4 631.0,1466.1 636.3,1468.1 641.5,1467.4 646.8,1465.2 652.0,1466.0 657.0,1469.6 662.2,1470.7 667.4,1462.1 672.5,1454.1 677.7,1458.4 682.8,1491.0 688.0,1512.7 693.2,1482.3 698.2,1419.4 703.5,1399.8 708.8,1447.6 713.9,1515.6 719.1,1516.6 724.3,1449.0 729.4,1404.5 734.7,1440.4 739.8,1509.4 745.0,1517.8 750.0,1454.8 755.1,1416.9 760.5,1449.0 765.5,1512.7 770.7,1516.7 775.9,1451.9 781.0,1409.5 786.4,1441.8 791.4,1510.5 796.6,1517.8 801.8,1460.6 806.9,1419.1 812.1,1448.3 817.2,1503.3 822.4,1500.4 827.6,1437.5 832.6,1402.5 838.1,1437.5 843.1,1499.4 848.1,1514.1 853.3,1472.2 858.4,1428.5 863.9,1444.0 869.0,1494.6 874.0,1513.8 879.2,1482.3 884.3,1448.8 889.8,1454.1 894.9,1482.3 899.8,1489.8 905.0,1466.4 910.0,1444.4 915.2,1452.7 920.5,1471.2 925.5,1472.9 929.7,1464.2 935.9,1460.3 941.3,1465.7 946.3,1459.2 951.4,1442.5 956.9,1441.4 962.0,1467.8 966.7,1493.9 972.1,1488.8 977.1,1458.4 982.2,1436.7 987.7,1449.8 992.8,1480.1 998.0,1494.6 1003.2,1482.6 1008.2,1462.3 1013.7,1471.5 1018.7,1492.2 1023.9,1496.3 1029.1,1476.5 1034.3,1458.0 1039.3,1456.0 1044.7,1466.7 1049.8,1470.0 1055.0,1455.5 1060.0,1441.5 1065.2,1442.2 1070.5,1455.1 1075.5,1465.7 1080.7,1461.0 1085.9,1449.0 1091.1,1450.0 1096.2,1474.4 1101.4,1501.4 1106.6,1510.8 1111.8,1497.5 1116.9,1480.1 1122.1,1471.9 1127.2,1473.6 1132.4,1473.6 1137.6,1466.1 1142.8,1455.5 1147.8,1450.8 1153.1,1447.9 1158.1,1439.6 1163.3,1427.0 1168.5,1420.5 1173.9,1431.0 1179.0,1453.4 1184.0,1472.9 1189.2,1479.4 1194.3,1479.0 1199.5,1481.6 1204.7,1488.4 1209.9,1494.6 1215.0,1492.7 1220.2,1487.4 1225.2,1486.4 1230.0,1488.5 1235.7,1486.9 1240.6,1476.7 1245.8,1465.8 1251.2,1460.7 1256.0,1459.9 1261.2,1458.4 1266.6,1455.8 1271.8,1455.5 1276.9,1458.3 1282.1,1460.6 1287.3,1458.8 1292.3,1455.5 1297.5,1454.9 1302.8,1458.8 1308.1,1463.7 1313.0,1465.0 1318.2,1462.8 1323.2,1462.2 1328.5,1467.4 1333.7,1475.9 1339.0,1479.1 1344.2,1472.6 1349.3,1462.8 1354.5,1458.0 1359.7,1460.7 1364.8,1463.5 1370.0,1461.2 1375.2,1460.1 1380.5,1468.0 1385.4,1482.0 1390.6,1490.7 1395.8,1484.0 1400.9,1469.3 1406.1,1462.8 1411.1,1470.5 1416.5,1479.6 1421.7,1476.2 1426.9,1463.2 1431.8,1452.8 1437.0,1458.0 1442.4,1469.8 1447.6,1471.8 1452.6,1460.4 1457.8,1453.1 1463.1,1458.3 1468.1,1465.6 1473.3,1464.5 1478.5,1458.6 1483.6,1457.5 1488.8,1465.6 1494.0,1475.0 1499.0,1474.5 1504.2,1464.8 1509.4,1458.0 1514.8,1463.7 1519.7,1473.9 1524.9,1478.0 1530.3,1472.6 1535.3,1466.2 1540.5,1466.6 1545.7,1471.0 1550.8,1471.8 1556.0,1467.2 1561.2,1464.6 1566.4,1467.2 1571.6,1470.2 1576.7,1469.0 1580.0,1466.1 1586.8,1461.5 1591.9,1463.2 1597.1,1467.4 1602.5,1469.0 1607.7,1467.2 1612.9,1464.6 1617.9,1463.8 1623.1,1464.8 1628.3,1467.1 1633.4,1468.4 1638.6,1467.9 1643.8,1468.0 1649.0,1470.0 1654.0,1471.6 1659.3,1471.3 1664.6,1470.2 1669.8,1468.8 1674.9,1467.6 1680.1,1466.6 1685.2,1465.8 1690.3,1465.3 1695.5,1465.1 1700.8,1464.5 1705.8,1463.3 1711.0,1462.0 1715.9,1461.7 1721.6,1463.7 1726.5,1465.4 1731.7,1465.1 1736.7,1463.7 1741.9,1463.5 1747.1,1465.6 1752.5,1467.4 1757.4,1467.9 1762.7,1468.2 1768.0,1468.5 1773.1,1469.1 1778.2,1469.7 1783.4,1470.0 1788.3,1470.2 1793.7,1469.0 1798.9,1466.7 1803.9,1465.6 1809.2,1465.4 1814.4,1465.6 1819.6,1467.2 1824.6,1470.7 1829.8,1472.8 1835.0,1470.7 1840.1,1467.9 1845.3,1467.6 1850.5,1468.5 1855.7,1468.0 1860.7,1466.7 1866.0,1465.3 1871.3,1464.0 1876.2,1463.7 1881.4,1464.1 1886.6,1464.5 1891.7,1463.8 1896.9,1463.3 1902.2,1464.1 1907.1,1465.9 1912.3,1467.1 1917.5,1467.7 1922.6,1469.0 1927.8,1469.7 1932.8,1468.5 1938.0,1465.8 1943.7,1465.4 1949.0,1466.4 1953.9,1467.4 1959.1,1467.1 1964.2,1467.7 1969.4,1469.3 1974.6,1469.8 1979.6,1468.5 1984.8,1466.6 1990.0,1465.4 1995.1,1465.8 2000.3,1467.6 2005.5,1469.7 2010.5,1468.4 2015.8,1464.1 2021.0,1462.8 2026.0,1466.1 2031.2,1468.9 2036.4,1468.4 2041.5,1467.1 2046.7,1466.6 2051.9,1466.4 2056.9,1466.9 2062.1,1468.0 2067.3,1468.5 2072.4,1466.7 2077.6,1463.2 2082.8,1460.9 2087.8,1462.8 2093.1,1471.5 2098.3,1480.4 2103.6,1478.3 2108.5,1462.8 2112.6,1450.6"/>
<polyline class="s" points="304.3,1480.1 309.4,1479.2 314.9,1475.2 320.2,1475.5 325.5,1478.5 330.4,1473.5 335.6,1462.3 340.8,1456.2 346.0,1460.4 351.1,1467.7 356.3,1468.1 361.5,1460.9 366.6,1455.8 371.9,1460.6 377.0,1467.4 382.2,1468.8 387.2,1467.1 392.6,1464.5 398.1,1464.8 402.7,1469.6 407.9,1472.7 413.1,1467.7 418.3,1462.6 423.4,1464.1 428.6,1468.1 433.8,1470.6 438.9,1471.4 443.9,1471.7 449.0,1470.6 454.4,1467.8 459.6,1464.1 464.9,1459.4 470.1,1457.5 475.3,1462.8 480.4,1470.3 485.6,1472.5 490.7,1469.6 495.7,1468.0 501.1,1470.3 506.1,1473.2 511.4,1472.9 516.6,1468.1 521.6,1463.5 526.8,1460.6 532.2,1460.2 537.2,1463.3 542.3,1467.4 547.4,1467.8 552.6,1465.9 557.8,1467.8 563.0,1471.2 568.1,1469.1 573.3,1463.5 578.5,1461.3 583.5,1466.7 588.8,1472.2 594.0,1468.1 599.2,1460.2 604.5,1458.7 609.6,1463.5 614.8,1469.6 619.7,1473.2 624.9,1470.6 630.2,1464.5 635.3,1462.6 640.4,1466.5 645.6,1470.9 650.8,1471.7 655.9,1469.9 660.9,1464.1 666.3,1447.4 671.5,1432.7 676.5,1448.9 681.6,1498.1 686.8,1533.2 692.0,1502.4 697.2,1434.4 702.3,1400.7 707.8,1433.0 712.7,1496.6 717.9,1511.1 723.1,1467.7 728.2,1430.4 733.4,1456.8 738.5,1504.6 743.8,1501.0 748.9,1446.0 753.9,1414.2 759.4,1448.9 764.4,1509.9 769.6,1523.0 774.8,1470.6 780.0,1416.3 785.2,1440.9 790.2,1502.0 795.6,1508.9 800.7,1450.3 805.7,1411.6 811.1,1447.4 816.1,1514.3 821.4,1523.7 826.6,1464.8 831.6,1414.9 837.0,1434.1 842.0,1491.3 847.1,1504.9 852.3,1459.0 857.4,1409.8 862.7,1436.6 867.8,1500.2 872.9,1523.0 878.1,1488.0 883.1,1453.5 888.6,1460.5 893.7,1485.8 898.9,1485.8 904.0,1456.8 909.0,1444.1 914.2,1469.9 919.3,1494.2 924.6,1472.8 929.7,1430.1 934.9,1425.0 940.0,1472.0 945.2,1501.4 950.4,1461.9 955.4,1399.7 960.9,1404.0 965.9,1470.6 970.9,1525.8 976.3,1498.1 981.3,1433.0 986.5,1418.2 991.8,1476.4 996.8,1528.9 1002.2,1518.3 1007.1,1465.5 1012.3,1443.5 1017.5,1479.3 1022.7,1511.4 1027.9,1497.3 1033.1,1451.5 1038.2,1434.1 1043.4,1463.3 1048.5,1490.1 1053.7,1473.5 1058.9,1433.0 1063.9,1414.2 1069.3,1435.9 1074.4,1463.8 1079.6,1463.8 1084.6,1443.1 1090.0,1440.5 1095.0,1469.1 1100.2,1506.0 1105.5,1521.2 1110.7,1514.7 1115.7,1505.6 1120.9,1496.2 1126.2,1477.8 1131.4,1454.0 1136.4,1443.8 1141.6,1454.7 1146.7,1466.2 1151.9,1454.7 1157.0,1428.6 1162.2,1415.6 1167.5,1421.4 1172.6,1429.8 1177.8,1432.0 1183.0,1438.0 1188.1,1462.6 1193.3,1501.0 1198.5,1521.7 1203.7,1513.3 1208.8,1495.6 1214.0,1489.1 1219.2,1492.0 1224.2,1490.1 1229.4,1482.2 1234.6,1475.5 1239.8,1474.4 1245.1,1477.1 1250.0,1475.8 1255.2,1462.5 1260.4,1442.6 1265.8,1434.3 1270.7,1447.8 1276.1,1465.2 1280.9,1464.9 1286.2,1454.3 1291.2,1452.4 1296.4,1463.0 1301.6,1472.4 1306.8,1466.5 1312.0,1452.4 1317.4,1447.8 1322.8,1462.5 1327.7,1479.9 1332.9,1480.4 1337.7,1466.1 1343.0,1458.4 1348.3,1467.2 1353.4,1478.0 1358.6,1474.7 1363.5,1457.6 1368.8,1443.4 1374.0,1456.8 1379.2,1489.0 1384.3,1497.5 1389.5,1466.5 1394.7,1435.6 1399.9,1449.1 1405.0,1495.0 1410.2,1520.3 1415.5,1493.4 1420.4,1447.0 1425.8,1435.1 1431.0,1464.9 1436.0,1493.9 1441.2,1487.7 1446.5,1457.6 1451.5,1444.9 1456.7,1464.1 1461.9,1483.2 1467.1,1472.2 1472.3,1448.3 1477.4,1443.8 1482.6,1459.2 1487.8,1470.6 1492.8,1462.8 1497.7,1450.0 1503.4,1453.9 1508.5,1470.6 1513.5,1478.3 1518.7,1466.9 1523.9,1449.1 1529.1,1441.8 1534.3,1459.2 1539.2,1489.3 1544.6,1509.2 1549.8,1505.6 1554.8,1488.5 1560.0,1468.2 1565.3,1455.7 1570.5,1459.6 1575.5,1475.8 1580.0,1485.3 1585.9,1474.4 1591.1,1447.0 1596.3,1426.7 1601.5,1427.2 1606.5,1441.8 1611.7,1453.5 1616.9,1458.1 1622.0,1467.4 1627.2,1482.0 1632.4,1491.3 1637.5,1490.0 1642.7,1478.0 1647.9,1462.2 1653.1,1459.2 1658.1,1471.4 1663.3,1486.1 1668.4,1490.2 1673.6,1484.5 1678.6,1480.9 1683.8,1483.6 1689.0,1478.0 1694.2,1461.3 1699.3,1447.8 1704.5,1441.8 1709.7,1446.2 1714.8,1454.0 1720.0,1455.2 1725.3,1450.3 1730.5,1453.5 1735.6,1466.9 1740.8,1476.3 1746.0,1467.9 1751.0,1450.8 1756.3,1448.3 1761.5,1470.6 1766.7,1493.7 1771.7,1484.8 1776.9,1455.2 1782.1,1447.8 1787.2,1474.7 1792.4,1501.9 1797.6,1497.8 1802.8,1464.9 1807.8,1438.4 1813.4,1441.8 1818.4,1472.2 1823.5,1495.0 1828.7,1480.4 1833.7,1456.8 1838.9,1460.0 1844.1,1481.7 1849.3,1487.7 1854.4,1473.1 1859.6,1460.0 1864.8,1462.8 1869.9,1470.5 1875.1,1465.9 1880.3,1445.7 1885.3,1430.8 1890.8,1443.0 1896.1,1469.3 1900.9,1477.5 1906.0,1460.9 1911.2,1443.8 1916.6,1451.4 1921.8,1477.1 1926.8,1499.1 1932.0,1496.3 1937.1,1481.5 1942.2,1475.8 1947.4,1478.4 1952.6,1474.4 1957.7,1462.0 1962.9,1452.4 1968.1,1453.5 1973.4,1460.5 1978.5,1465.7 1983.5,1463.0 1988.7,1453.5 1993.9,1449.8 1999.2,1458.7 2004.4,1470.6 2009.4,1475.0 2014.6,1471.8 2019.8,1471.1 2025.0,1476.0 2030.1,1480.9 2035.3,1478.0 2040.5,1467.9 2045.5,1461.2 2050.7,1462.5 2055.9,1467.9 2061.0,1472.2 2066.2,1475.0 2071.1,1475.5 2076.5,1473.4 2081.7,1468.7 2086.9,1462.0 2091.9,1458.9 2097.1,1462.5 2102.3,1466.5 2107.7,1466.2 2112.6,1460.9"/>
<polyline class="s" points="304.3,1467.9 309.4,1467.8 314.5,1467.7 320.2,1468.9 325.3,1469.5 330.4,1468.3 336.2,1465.7 341.9,1464.1 346.3,1464.6 352.1,1467.5 357.1,1469.3 362.2,1468.6 367.3,1466.9 371.6,1466.6 377.4,1467.9 382.5,1467.7 388.2,1465.7 393.3,1464.7 398.4,1465.0 403.4,1466.4 407.8,1466.6 413.6,1465.0 418.3,1463.7 423.0,1465.4 428.8,1468.9 433.8,1470.2 438.9,1468.0 444.7,1465.4 449.0,1465.3 454.1,1466.4 459.1,1466.7 466.4,1465.9 472.1,1466.4 479.4,1467.7 485.2,1467.2 491.0,1465.4 495.7,1464.7 501.1,1465.7 506.9,1467.2 511.9,1467.7 518.4,1466.9 523.5,1466.4 527.9,1467.5 532.9,1469.3 537.2,1470.0 542.3,1468.3 548.1,1465.7 553.2,1465.0 558.2,1466.0 563.3,1467.9 568.4,1469.2 573.4,1468.3 578.5,1466.0 583.5,1465.7 588.6,1467.9 593.7,1470.5 598.7,1470.8 603.8,1468.6 609.6,1466.4 614.6,1466.9 619.7,1467.5 625.2,1464.9 630.2,1464.7 635.3,1468.3 640.8,1472.3 645.9,1470.7 651.2,1466.5 656.3,1464.9 661.4,1466.5 666.4,1456.0 671.5,1443.7 676.7,1442.2 681.9,1477.7 687.1,1510.9 692.5,1497.2 697.4,1445.8 702.6,1419.1 708.1,1447.3 713.0,1496.5 718.1,1508.5 723.3,1471.9 728.5,1434.3 733.7,1444.7 738.8,1482.0 744.0,1495.0 749.2,1466.1 754.2,1437.6 759.6,1447.3 764.6,1479.5 769.9,1487.5 775.1,1461.0 780.1,1442.2 785.3,1458.1 790.4,1488.2 795.6,1493.6 800.8,1472.6 805.9,1458.6 811.1,1469.0 816.3,1484.6 821.5,1475.2 826.6,1443.7 831.8,1427.0 837.0,1443.2 842.2,1474.8 847.2,1486.6 852.5,1473.6 857.7,1458.9 862.9,1458.9 867.9,1473.3 873.1,1487.5 878.4,1490.0 883.4,1477.7 888.6,1462.9 893.8,1459.6 899.0,1471.9 904.1,1487.8 909.3,1496.5 914.5,1485.6 919.6,1456.0 924.8,1418.8 929.7,1413.6 935.2,1454.5 940.2,1497.6 945.6,1487.1 950.7,1427.0 955.7,1401.7 961.2,1451.6 966.0,1519.6 971.2,1528.6 976.4,1469.0 981.5,1413.6 986.8,1427.5 991.9,1484.9 997.1,1520.3 1002.3,1499.4 1007.5,1460.6 1012.6,1459.9 1017.8,1489.2 1022.9,1500.4 1028.1,1467.5 1033.1,1434.7 1038.5,1437.6 1043.5,1469.7 1048.8,1484.6 1054.0,1460.3 1059.0,1429.9 1064.4,1431.4 1069.4,1463.2 1074.5,1490.7 1079.9,1483.0 1084.9,1453.8 1090.1,1441.9 1095.3,1463.2 1100.4,1496.0 1105.6,1512.7 1110.8,1502.7 1115.9,1484.2 1121.1,1476.2 1126.3,1475.8 1131.5,1469.0 1136.6,1458.6 1141.8,1452.3 1147.0,1455.0 1152.2,1455.5 1157.2,1442.2 1162.5,1416.9 1167.7,1400.0 1172.9,1410.7 1177.9,1443.0 1183.2,1475.2 1188.3,1486.6 1193.4,1485.2 1198.6,1487.8 1203.8,1495.3 1209.0,1498.9 1214.1,1495.0 1219.3,1490.1 1224.5,1490.4 1229.6,1492.6 1234.7,1489.4 1239.8,1477.6 1245.0,1466.0 1250.3,1463.4 1255.4,1468.0 1260.5,1468.2 1265.6,1458.3 1270.9,1447.7 1276.2,1447.5 1281.3,1456.8 1286.6,1464.8 1291.6,1462.3 1296.7,1454.8 1302.0,1449.9 1306.9,1449.9 1312.2,1453.6 1317.5,1460.9 1322.8,1469.5 1327.7,1475.6 1333.1,1479.6 1338.2,1481.7 1343.3,1479.6 1348.6,1471.1 1353.7,1457.3 1359.0,1443.6 1363.9,1441.0 1369.2,1452.8 1374.4,1467.0 1379.5,1476.0 1384.6,1477.0 1389.7,1478.2 1395.0,1484.1 1400.3,1489.2 1405.4,1485.3 1410.5,1475.2 1415.5,1467.4 1420.6,1467.0 1425.9,1470.5 1431.0,1469.3 1436.3,1463.4 1441.6,1458.9 1446.7,1459.3 1451.8,1462.1 1456.8,1462.8 1461.9,1458.9 1467.2,1454.6 1472.3,1456.2 1477.6,1462.3 1482.9,1468.5 1488.0,1468.7 1493.0,1465.0 1498.1,1463.4 1503.2,1465.8 1508.5,1469.1 1513.8,1471.3 1518.9,1471.9 1524.0,1471.7 1529.0,1470.9 1534.1,1468.7 1539.4,1465.2 1544.7,1463.2 1549.8,1463.8 1555.1,1465.8 1560.2,1467.6 1565.7,1469.1 1570.8,1469.5 1575.8,1469.3 1580.9,1469.1 1586.0,1469.1 1591.1,1468.2 1596.2,1467.2 1601.7,1467.6 1606.8,1468.7 1612.0,1468.2 1617.1,1466.4 1622.2,1465.4 1627.3,1466.2 1632.8,1468.2 1637.9,1469.9 1643.0,1470.5 1648.1,1470.5 1653.2,1470.9 1658.2,1471.1 1663.3,1469.7 1668.8,1466.6 1674.1,1464.0 1679.2,1463.2 1684.2,1463.8 1689.3,1465.2 1694.4,1465.4 1699.5,1464.4 1704.6,1463.0 1710.1,1461.5 1715.2,1460.5 1720.5,1461.5 1725.5,1464.0 1730.6,1465.8 1735.7,1465.8 1740.8,1465.2 1745.9,1465.8 1751.4,1467.4 1756.5,1469.7 1761.5,1471.5 1766.6,1471.1 1771.7,1468.7 1776.8,1467.4 1781.9,1469.1 1787.4,1471.3 1792.5,1470.5 1797.5,1468.0 1802.8,1466.4 1807.9,1467.0 1813.0,1468.5 1818.1,1468.8 1823.6,1467.4 1828.7,1465.8 1833.8,1464.8 1838.8,1464.4 1843.9,1464.8 1849.0,1466.2 1854.5,1467.2 1859.6,1466.4 1864.7,1465.2 1870.0,1466.0 1875.1,1468.0 1880.2,1468.2 1885.6,1466.2 1890.7,1464.6 1895.8,1464.4 1900.9,1465.0 1906.0,1465.8 1911.1,1465.6 1916.6,1466.0 1921.7,1467.8 1926.7,1469.9 1932.0,1470.1 1937.1,1469.5 1942.6,1469.7 1947.7,1470.1 1952.8,1469.9 1957.9,1469.3 1963.0,1467.6 1968.0,1465.4 1973.1,1464.6 1978.6,1466.2 1983.7,1468.2 1988.8,1468.2 1994.1,1467.4 1999.2,1468.0 2004.7,1469.5 2009.7,1468.8 2014.8,1466.0 2019.9,1464.2 2025.0,1465.2 2030.1,1466.8 2035.6,1467.2 2040.7,1466.6 2046.0,1465.4 2051.0,1464.0 2056.1,1463.4 2061.2,1464.2 2066.7,1465.8 2071.8,1467.0 2076.9,1467.4 2082.0,1466.8 2087.0,1466.0 2092.1,1465.4 2097.2,1466.4 2102.3,1467.0 2107.5,1467.0 2112.7,1467.0"/>
<polyline class="s" points="304.3,1467.8 309.4,1465.6 315.2,1461.3 320.2,1460.9 325.3,1463.9 330.4,1466.5 336.2,1468.2 341.2,1468.5 346.3,1468.5 351.4,1470.0 356.7,1470.8 361.5,1467.1 366.8,1461.9 371.9,1462.5 377.0,1465.6 382.5,1467.5 387.5,1466.6 392.6,1465.0 398.1,1465.0 403.4,1468.5 408.8,1471.7 413.6,1470.3 418.6,1466.1 424.1,1463.8 429.0,1464.6 434.2,1467.8 439.2,1471.4 444.4,1471.8 449.4,1467.8 454.8,1464.8 459.9,1466.1 464.9,1469.1 470.4,1470.8 475.5,1469.2 480.5,1464.9 485.9,1462.5 491.0,1465.0 496.0,1467.4 501.1,1465.3 506.6,1463.5 511.6,1464.2 517.0,1466.4 522.1,1469.2 527.1,1470.0 532.2,1465.6 537.4,1461.3 542.6,1462.5 547.7,1466.8 552.9,1469.0 557.9,1468.2 563.3,1467.8 568.4,1470.0 573.6,1471.7 578.8,1468.2 583.8,1462.5 589.0,1460.7 594.2,1463.9 599.3,1468.5 604.5,1470.4 609.6,1469.2 614.8,1467.8 619.7,1466.6 625.2,1465.9 631.0,1467.1 636.0,1466.2 640.8,1464.8 646.2,1466.2 651.2,1470.3 656.4,1474.2 661.6,1472.9 666.7,1465.9 671.9,1459.0 677.0,1455.1 682.2,1480.4 687.4,1504.3 692.6,1493.4 697.5,1437.0 702.7,1399.8 708.4,1435.6 713.1,1507.6 718.5,1524.8 723.7,1468.8 728.6,1406.9 734.0,1428.3 739.0,1497.5 744.1,1520.2 749.3,1473.2 754.4,1417.0 760.0,1438.5 764.9,1509.3 770.0,1532.0 775.2,1476.1 780.3,1407.6 785.8,1422.5 790.7,1498.0 795.9,1530.8 801.1,1479.0 806.0,1421.4 811.7,1433.4 816.7,1491.7 821.8,1509.0 827.0,1461.6 831.9,1401.7 837.6,1421.5 842.5,1490.2 847.5,1519.8 852.8,1479.0 857.8,1431.2 863.2,1439.9 868.2,1490.5 873.4,1514.4 878.6,1486.2 883.7,1450.3 888.9,1451.9 894.1,1480.1 899.2,1492.0 904.4,1468.8 909.5,1445.0 915.0,1449.7 919.9,1467.4 924.9,1466.7 929.7,1457.3 935.3,1463.0 940.5,1478.7 945.8,1470.6 950.8,1437.0 956.0,1424.4 961.4,1461.6 966.3,1502.4 971.6,1499.5 976.7,1457.3 981.8,1434.5 987.0,1453.6 992.0,1484.3 997.4,1489.8 1002.5,1467.4 1007.7,1454.1 1012.9,1476.1 1018.1,1499.2 1023.3,1495.2 1028.3,1468.1 1033.6,1454.4 1038.8,1466.4 1043.8,1481.1 1049.0,1476.1 1054.2,1453.6 1059.3,1438.7 1064.7,1444.7 1069.7,1461.6 1074.9,1467.7 1080.0,1455.8 1085.2,1445.2 1090.6,1452.9 1095.6,1476.1 1100.7,1497.3 1105.9,1500.7 1111.1,1488.4 1116.2,1478.5 1121.4,1478.2 1126.6,1480.4 1131.7,1473.9 1136.8,1462.3 1142.1,1456.5 1147.1,1457.0 1152.3,1454.8 1157.4,1445.2 1162.6,1428.3 1167.8,1419.9 1173.0,1432.2 1178.2,1456.1 1183.3,1470.3 1188.5,1472.9 1193.7,1473.9 1198.8,1481.4 1204.0,1492.0 1209.2,1494.4 1214.4,1484.8 1219.5,1475.6 1225.0,1479.2 1229.6,1490.5 1235.1,1496.8 1240.2,1486.2 1245.3,1472.0 1250.3,1464.4 1255.4,1461.4 1260.5,1456.1 1266.0,1450.4 1271.3,1451.0 1276.4,1457.3 1281.7,1463.0 1286.6,1462.4 1292.0,1457.7 1297.1,1456.7 1302.2,1460.4 1307.3,1462.6 1312.4,1460.4 1317.5,1458.3 1322.8,1460.8 1327.8,1467.3 1333.3,1472.4 1338.4,1472.4 1343.5,1470.9 1348.6,1471.8 1353.7,1470.7 1359.0,1465.5 1364.3,1460.2 1369.3,1459.8 1374.4,1466.5 1379.5,1474.0 1384.8,1477.7 1390.1,1477.5 1395.2,1477.0 1400.5,1476.4 1405.6,1474.4 1410.7,1469.9 1415.7,1465.7 1420.8,1464.2 1425.9,1465.5 1431.4,1467.3 1436.5,1466.9 1441.6,1464.6 1446.7,1463.8 1451.8,1465.9 1456.8,1465.2 1461.9,1460.8 1467.4,1458.3 1472.5,1461.2 1477.8,1464.8 1482.9,1467.9 1488.0,1469.3 1493.5,1468.7 1498.5,1466.5 1503.6,1464.6 1509.1,1463.8 1514.2,1464.8 1519.3,1467.9 1524.4,1470.3 1529.5,1470.5 1534.5,1468.3 1539.8,1467.3 1544.9,1469.9 1550.0,1469.3 1555.5,1464.8 1560.6,1464.2 1565.7,1466.9 1570.8,1466.5 1576.2,1464.6 1581.3,1465.9 1586.4,1468.9 1591.5,1470.5 1596.8,1471.2 1601.9,1471.8 1607.0,1470.5 1612.5,1465.9 1617.5,1461.2 1622.6,1462.2 1627.7,1466.9 1632.8,1464.8 1637.9,1458.9 1643.0,1461.8 1648.5,1470.9 1653.5,1477.2 1658.6,1476.0 1663.9,1470.9 1669.0,1466.9 1674.1,1466.7 1679.2,1466.5 1684.2,1464.2 1689.3,1461.8 1694.4,1462.6 1699.9,1466.9 1705.0,1470.1 1710.1,1467.9 1715.4,1460.8 1720.5,1457.1 1725.5,1462.8 1731.0,1470.3 1736.1,1471.2 1741.2,1465.2 1746.3,1463.2 1751.4,1466.5 1756.9,1468.7 1762.0,1464.8 1767.0,1460.4 1772.1,1461.4 1777.4,1468.9 1782.5,1476.4 1787.6,1475.0 1792.7,1468.3 1797.8,1464.6 1803.2,1467.9 1808.3,1471.3 1813.4,1470.5 1818.9,1466.1 1824.0,1464.6 1829.1,1467.9 1834.4,1469.9 1839.5,1467.5 1844.5,1464.0 1849.6,1461.6 1854.7,1463.4 1860.2,1470.5 1865.3,1472.6 1870.4,1465.5 1875.9,1459.1 1881.0,1461.2 1886.0,1466.3 1891.1,1469.3 1896.2,1467.9 1901.3,1462.8 1906.6,1457.3 1911.7,1461.2 1917.2,1471.3 1922.3,1476.0 1927.3,1470.3 1932.4,1464.0 1937.5,1465.9 1943.0,1475.0 1948.1,1478.7 1953.2,1470.9 1958.5,1459.8 1963.6,1457.9 1968.6,1466.3 1973.7,1475.0 1979.2,1475.6 1984.3,1468.3 1989.4,1462.6 1994.5,1466.3 2000.0,1473.2 2005.1,1471.5 2010.1,1461.2 2015.2,1454.1 2020.3,1461.4 2025.6,1472.2 2030.7,1474.0 2036.2,1467.9 2041.3,1463.8 2046.4,1465.9 2051.4,1471.8 2056.5,1472.6 2061.6,1466.3 2066.7,1461.4 2071.8,1465.9 2077.3,1470.5 2082.4,1467.9 2087.4,1461.8 2092.9,1462.8 2097.8,1472.0 2102.9,1477.2 2108.0,1472.0 2112.7,1465.2"/>
<polyline class="s" points="304.3,1469.2 310.1,1470.4 315.9,1471.8 320.2,1472.3 325.3,1472.6 330.4,1471.8 335.6,1468.7 340.8,1464.6 346.0,1463.9 351.4,1467.5 356.4,1469.0 361.6,1463.2 366.8,1459.1 372.0,1463.2 377.1,1467.8 382.5,1468.2 387.5,1466.1 392.6,1463.9 398.4,1463.2 403.4,1465.8 408.5,1470.4 413.6,1471.1 418.6,1468.5 423.7,1467.5 428.8,1468.2 434.2,1469.2 439.2,1468.0 444.7,1465.3 449.7,1463.9 454.8,1462.9 459.9,1462.5 464.9,1463.9 470.4,1467.5 475.5,1466.8 480.5,1461.7 485.9,1459.6 491.0,1466.8 496.0,1476.5 501.4,1479.1 506.6,1466.8 511.6,1453.8 517.0,1455.2 522.1,1472.6 527.1,1485.3 532.5,1476.2 537.5,1458.8 542.8,1454.1 547.8,1466.1 552.9,1479.1 558.2,1474.8 563.3,1459.6 568.4,1454.2 573.6,1463.9 578.8,1474.5 583.8,1473.3 589.0,1466.1 594.4,1466.4 599.5,1473.0 604.7,1473.7 609.6,1466.1 614.8,1460.0 619.7,1463.2 625.2,1472.3 630.4,1475.6 635.6,1468.7 640.8,1460.0 646.0,1460.4 651.2,1468.0 656.4,1473.0 661.6,1471.1 666.7,1461.5 671.9,1452.5 677.1,1452.0 682.2,1481.7 687.4,1511.4 692.6,1497.6 697.5,1441.2 702.9,1403.9 708.4,1434.0 713.1,1502.7 718.5,1525.8 723.7,1467.2 728.6,1413.7 734.0,1432.5 739.0,1497.6 744.2,1520.8 749.3,1465.8 754.4,1400.0 760.0,1411.5 764.9,1486.0 770.0,1528.4 775.2,1497.6 780.3,1438.6 785.8,1444.8 790.7,1492.5 795.9,1509.6 801.1,1473.0 806.2,1436.4 811.7,1447.0 816.7,1482.9 821.8,1485.8 827.0,1442.6 832.1,1414.1 837.6,1439.0 842.5,1491.8 847.5,1504.6 852.8,1471.6 858.0,1444.4 863.2,1459.7 868.2,1498.3 873.4,1508.2 878.6,1477.4 883.7,1448.4 888.9,1463.2 894.1,1495.4 899.2,1495.2 904.4,1460.0 909.5,1431.8 915.0,1437.6 919.9,1463.6 925.1,1479.5 929.7,1476.2 935.3,1457.1 940.5,1444.1 945.8,1444.1 950.8,1458.5 956.0,1472.6 961.4,1475.9 966.4,1462.9 971.6,1446.5 976.9,1445.8 981.9,1465.8 987.0,1488.5 992.2,1494.4 997.4,1481.0 1002.6,1468.0 1007.7,1460.0 1012.9,1488.9 1018.1,1499.5 1023.3,1486.8 1028.3,1461.5 1033.6,1450.6 1038.8,1461.5 1043.8,1474.5 1049.0,1470.4 1054.2,1452.8 1059.3,1440.9 1064.7,1443.4 1069.7,1450.3 1074.9,1452.8 1080.0,1452.0 1085.2,1459.6 1090.4,1479.5 1095.6,1498.8 1100.7,1503.0 1105.9,1496.2 1111.1,1487.0 1116.2,1480.7 1121.4,1478.5 1126.6,1475.9 1131.7,1466.2 1136.8,1453.9 1142.1,1443.7 1147.1,1436.8 1152.3,1433.0 1157.4,1429.3 1162.6,1426.7 1167.8,1429.6 1173.0,1440.8 1178.2,1460.0 1183.3,1479.2 1188.5,1491.1 1193.7,1494.4 1198.8,1492.8 1204.0,1492.3 1209.2,1495.7 1214.4,1499.5 1219.5,1496.9 1224.7,1488.5 1229.6,1481.7 1235.2,1477.6 1240.4,1472.4 1245.6,1462.6 1250.8,1452.5 1256.0,1447.6 1261.2,1448.1 1266.3,1448.0 1271.5,1445.7 1276.7,1447.1 1281.8,1456.1 1287.0,1464.7 1291.8,1466.3 1297.0,1463.1 1302.3,1461.5 1307.5,1465.0 1312.7,1470.4 1317.7,1473.2 1322.8,1469.9 1328.0,1466.7 1333.2,1468.8 1338.4,1472.7 1343.4,1471.5 1348.6,1466.7 1353.8,1461.8 1359.1,1457.7 1364.3,1458.2 1369.5,1464.7 1374.5,1474.0 1379.7,1480.5 1384.9,1483.3 1390.1,1482.5 1395.2,1480.0 1400.4,1477.1 1405.6,1471.5 1410.7,1463.4 1415.9,1459.3 1421.1,1462.6 1426.3,1466.3 1431.5,1465.0 1436.7,1461.0 1441.6,1458.9 1446.8,1462.6 1452.0,1468.8 1457.2,1469.6 1462.4,1464.2 1467.6,1460.2 1472.8,1462.6 1477.9,1465.9 1483.1,1467.2 1488.3,1466.8 1493.3,1465.9 1498.5,1463.4 1503.7,1461.5 1509.0,1463.4 1514.2,1468.0 1519.4,1470.7 1524.6,1470.7 1529.8,1471.5 1535.0,1472.5 1540.0,1471.2 1545.2,1469.1 1550.5,1467.5 1555.5,1465.9 1560.7,1465.0 1565.9,1465.9 1571.1,1468.8 1576.2,1471.2 1580.0,1469.9 1586.2,1466.5 1591.4,1467.2 1596.6,1469.8 1601.8,1470.4 1607.0,1467.5 1612.2,1463.7 1617.4,1463.4 1622.6,1467.2 1627.8,1470.9 1632.9,1469.9 1638.1,1467.2 1643.3,1465.0 1648.3,1464.4 1653.6,1466.7 1658.8,1471.1 1663.8,1473.2 1669.0,1470.2 1674.2,1466.3 1679.3,1463.9 1684.5,1462.9 1689.7,1463.1 1694.9,1464.2 1700.1,1465.2 1705.3,1465.4 1710.4,1462.6 1715.6,1458.2 1720.8,1458.9 1726.0,1465.0 1731.0,1470.7 1736.2,1472.4 1741.5,1471.9 1746.5,1468.6 1751.7,1463.7 1756.9,1458.5 1762.0,1456.9 1767.2,1465.5 1772.4,1479.4 1777.6,1486.2 1782.6,1479.7 1787.8,1465.9 1792.9,1455.0 1798.1,1458.5 1803.3,1472.4 1808.5,1480.2 1813.7,1475.1 1818.8,1467.2 1824.0,1464.6 1829.0,1463.9 1834.2,1460.5 1839.4,1458.5 1844.6,1462.6 1849.8,1468.8 1855.0,1471.5 1860.2,1465.9 1865.3,1456.9 1870.5,1455.8 1875.7,1467.5 1880.8,1478.4 1886.0,1477.2 1891.2,1464.7 1896.2,1455.3 1901.4,1459.0 1906.6,1469.9 1911.7,1477.2 1916.9,1474.0 1922.1,1465.5 1927.3,1459.3 1932.3,1460.5 1937.6,1468.0 1942.8,1474.8 1948.0,1477.7 1953.2,1477.2 1958.5,1472.9 1963.7,1464.2 1968.7,1455.6 1973.9,1458.5 1979.1,1473.5 1984.2,1488.3 1989.4,1484.6 1994.6,1463.4 1999.5,1445.8 2004.8,1448.0 2010.0,1469.4 2015.1,1482.1 2020.3,1465.0 2025.5,1442.8 2030.9,1446.8 2035.8,1471.5 2041.0,1486.5 2046.2,1471.5 2051.2,1448.0 2056.4,1445.2 2061.7,1465.9 2066.8,1488.6 2072.1,1489.0 2077.1,1471.5 2082.2,1461.0 2087.4,1468.8 2092.6,1479.7 2097.8,1476.8 2102.8,1463.4 2108.0,1453.3 2112.6,1455.6"/>
<polyline class="s" points="304.3,1467.7 309.4,1468.6 314.5,1467.4 320.2,1466.4 324.6,1465.7 329.7,1467.4 335.4,1468.9 341.2,1467.9 346.3,1466.4 350.6,1466.3 355.7,1467.1 360.8,1467.4 366.6,1466.7 371.6,1466.0 376.7,1466.3 382.5,1468.0 388.2,1468.9 394.0,1468.3 401.3,1466.7 407.8,1465.5 414.3,1465.3 421.5,1465.7 428.8,1467.0 434.5,1467.4 439.6,1467.2 444.7,1467.0 449.7,1467.0 454.8,1467.1 459.1,1467.6 463.5,1468.2 469.3,1468.4 476.5,1467.7 483.7,1467.1 491.0,1468.3 496.8,1468.7 504.0,1467.7 511.2,1466.0 516.3,1465.5 521.3,1466.4 527.1,1467.9 531.5,1468.2 537.2,1467.0 543.0,1465.1 547.4,1464.8 552.4,1466.7 557.5,1468.4 562.6,1468.2 567.6,1466.7 572.7,1466.4 577.8,1467.4 583.5,1468.6 588.6,1468.4 593.7,1467.3 598.7,1466.8 603.8,1467.9 609.6,1469.2 614.6,1468.6 619.7,1467.1 624.9,1466.6 630.2,1467.3 635.3,1468.9 640.4,1469.2 645.4,1468.0 650.8,1466.9 655.9,1468.2 660.8,1470.9 666.0,1465.6 671.0,1444.6 676.3,1432.3 681.3,1462.0 686.5,1509.4 691.9,1515.8 696.8,1464.8 702.0,1408.9 707.4,1425.1 712.4,1492.3 717.5,1533.6 722.7,1496.7 727.9,1430.1 733.1,1422.5 738.2,1469.2 743.2,1505.3 748.6,1479.3 753.6,1430.8 759.0,1424.8 764.1,1470.6 769.1,1501.3 774.5,1478.6 779.5,1436.6 784.9,1439.1 790.0,1483.7 795.0,1513.0 800.4,1495.2 805.4,1458.8 810.6,1452.1 815.9,1475.0 820.9,1486.1 826.1,1463.4 831.3,1430.1 836.5,1431.6 841.8,1463.4 846.8,1486.8 852.0,1482.9 857.1,1463.1 862.3,1453.6 867.5,1464.8 872.7,1484.4 877.8,1491.6 883.0,1482.9 888.2,1466.6 893.2,1459.3 898.6,1469.2 903.7,1489.4 908.9,1503.2 914.1,1490.9 919.3,1453.3 924.4,1408.0 929.7,1410.2 934.5,1463.4 939.7,1506.8 945.0,1484.4 950.0,1420.7 955.1,1399.8 960.5,1454.7 965.6,1521.3 970.8,1523.4 975.8,1463.4 981.0,1414.9 986.3,1437.4 991.3,1490.9 996.5,1510.8 1001.7,1486.5 1006.8,1464.6 1012.0,1471.4 1017.2,1494.8 1022.4,1483.9 1027.5,1451.1 1032.5,1436.2 1037.9,1456.2 1043.0,1480.8 1048.2,1475.3 1053.2,1448.6 1058.4,1435.5 1063.7,1450.4 1069.0,1472.5 1074.1,1479.6 1079.1,1464.8 1084.3,1449.2 1089.5,1451.1 1094.8,1469.2 1099.8,1487.3 1105.0,1500.3 1110.2,1503.2 1115.3,1496.0 1120.5,1484.4 1125.7,1473.8 1130.9,1467.3 1136.0,1465.9 1141.2,1465.6 1146.4,1460.2 1151.6,1447.8 1156.7,1429.4 1161.9,1416.4 1167.1,1415.4 1172.3,1427.5 1177.5,1446.0 1182.6,1462.0 1187.8,1471.4 1193.0,1478.6 1198.0,1486.8 1203.2,1492.6 1208.5,1494.5 1213.7,1493.3 1218.7,1494.1 1223.9,1495.7 1229.2,1493.8 1234.9,1485.8 1239.8,1478.0 1245.0,1473.3 1250.0,1470.4 1255.2,1465.5 1260.4,1459.0 1265.5,1453.6 1270.7,1453.5 1275.9,1456.5 1280.9,1458.3 1286.2,1457.4 1291.4,1455.7 1296.4,1454.1 1301.6,1453.0 1306.8,1452.8 1311.9,1454.9 1317.1,1460.3 1322.1,1467.6 1327.3,1474.5 1332.5,1478.8 1337.7,1479.8 1343.0,1476.9 1348.2,1470.4 1353.2,1461.4 1358.6,1452.8 1363.5,1449.7 1368.7,1454.9 1373.9,1464.7 1379.1,1474.5 1384.3,1480.2 1389.5,1481.5 1394.5,1480.6 1399.8,1480.2 1405.0,1478.5 1410.0,1473.2 1415.2,1466.3 1420.4,1464.7 1425.6,1468.3 1430.7,1470.9 1435.9,1467.6 1441.1,1460.6 1446.3,1456.5 1451.3,1458.2 1456.5,1462.2 1461.8,1463.1 1467.0,1460.1 1472.2,1458.7 1477.4,1463.5 1482.3,1470.1 1487.5,1471.2 1492.7,1466.7 1497.7,1463.1 1502.9,1464.7 1508.1,1468.4 1513.2,1470.9 1518.4,1470.9 1523.6,1470.1 1528.8,1470.4 1534.0,1470.4 1539.2,1467.6 1544.4,1462.2 1549.6,1459.2 1554.8,1461.6 1560.0,1466.7 1565.3,1469.1 1570.1,1468.0 1575.3,1467.1 1580.0,1469.2 1585.7,1471.7 1589.8,1471.5 1595.0,1468.4 1600.2,1467.1 1605.4,1469.1 1610.9,1470.9 1616.1,1469.7 1621.5,1466.0 1626.7,1464.2 1631.8,1466.0 1637.0,1469.6 1641.8,1471.2 1647.0,1470.4 1652.3,1469.1 1657.5,1469.2 1662.7,1469.7 1667.9,1468.0 1673.1,1465.0 1678.3,1463.4 1683.5,1465.2 1688.7,1467.1 1693.9,1466.7 1699.1,1463.9 1704.2,1461.4 1709.4,1460.5 1714.6,1460.5 1720.0,1461.0 1724.8,1461.9 1730.0,1464.0 1735.3,1466.7 1740.5,1468.1 1745.5,1468.1 1750.7,1467.6 1755.8,1468.4 1761.0,1469.2 1766.2,1469.6 1771.4,1469.7 1776.6,1471.4 1781.8,1473.0 1786.7,1472.3 1791.9,1469.1 1797.1,1466.0 1802.3,1465.7 1807.5,1468.3 1812.7,1470.9 1817.6,1470.4 1822.8,1467.1 1828.0,1463.7 1833.1,1463.1 1838.3,1464.5 1843.5,1465.8 1848.5,1465.8 1853.7,1465.7 1859.0,1466.8 1864.2,1468.1 1869.4,1468.4 1874.6,1467.6 1879.8,1466.7 1884.8,1466.3 1890.0,1466.5 1895.2,1465.5 1900.3,1464.2 1905.5,1463.9 1910.7,1465.3 1915.9,1467.6 1921.0,1469.4 1926.2,1468.9 1931.5,1468.0 1936.4,1468.4 1942.5,1469.9 1947.4,1470.9 1952.6,1469.7 1957.7,1467.5 1962.9,1466.7 1968.1,1468.0 1973.4,1469.6 1978.3,1469.7 1983.5,1468.3 1988.7,1466.7 1993.9,1466.8 1999.0,1468.1 2004.2,1468.1 2009.4,1466.7 2014.6,1465.2 2019.8,1465.5 2024.9,1466.7 2030.1,1466.3 2035.3,1465.0 2040.5,1464.5 2045.7,1465.2 2050.7,1466.5 2055.9,1467.1 2061.3,1466.5 2066.2,1465.5 2071.4,1465.8 2076.6,1467.0 2081.7,1467.3 2086.9,1466.7 2092.2,1466.0 2097.1,1466.7 2102.3,1466.9 2107.4,1467.0 2112.6,1467.1"/>
<polyline class="b" points="304.3,1465.8 309.0,1466.0 313.7,1466.3 318.4,1466.6 323.1,1466.8 328.1,1466.9 333.0,1467.1 337.9,1467.2 342.8,1467.3 347.7,1467.3 353.3,1467.2 358.8,1467.0 364.4,1466.6 369.9,1466.3 375.5,1466.0 381.0,1465.9 386.1,1465.9 391.3,1466.0 396.4,1466.1 401.5,1466.2 406.7,1466.4 411.8,1466.5 416.9,1466.7 422.1,1466.8 427.2,1467.0 432.3,1467.0 437.4,1467.0 442.7,1466.6 448.0,1465.8 453.4,1465.3 457.7,1466.0 462.0,1467.2 466.4,1467.9 470.7,1467.4 475.1,1466.4 479.4,1465.9 485.2,1466.6 491.0,1467.3 496.8,1466.0 502.5,1464.7 507.1,1465.6 511.7,1467.2 516.3,1468.1 521.1,1467.4 525.9,1466.1 530.7,1465.5 536.9,1466.6 543.0,1467.8 548.8,1466.9 554.6,1466.0 560.4,1466.6 566.2,1467.2 572.0,1466.8 577.8,1466.3 582.1,1466.8 586.4,1467.7 590.8,1468.2 595.1,1467.8 599.5,1467.1 603.8,1466.8 608.6,1467.0 613.4,1467.5 618.3,1467.8 623.7,1467.9 629.1,1467.9 634.6,1468.0 640.0,1468.0 645.4,1467.9 650.9,1467.7 656.6,1468.9 661.0,1466.4 666.5,1448.3 671.8,1435.3 676.9,1448.3 682.2,1494.6 687.7,1527.9 692.8,1502.6 697.9,1435.3 702.9,1399.4 708.3,1433.9 713.5,1498.2 718.4,1518.1 723.6,1477.3 728.7,1433.9 734.0,1439.4 739.2,1477.3 744.2,1491.0 749.5,1464.2 754.6,1439.7 759.8,1448.8 765.0,1479.9 770.0,1493.9 775.3,1475.8 780.3,1458.8 785.5,1463.4 790.7,1477.3 795.8,1475.5 801.0,1458.2 806.2,1449.5 811.4,1460.6 816.5,1474.7 821.7,1472.9 826.9,1459.5 832.1,1454.8 837.2,1465.4 842.4,1475.8 847.6,1473.2 852.7,1463.7 857.9,1462.8 863.1,1473.2 868.3,1483.8 873.4,1479.4 878.5,1466.4 883.8,1459.6 888.8,1463.8 894.2,1468.0 899.2,1465.1 904.5,1462.4 909.7,1465.4 914.9,1470.3 919.9,1469.2 925.1,1461.3 930.2,1454.5 935.4,1459.2 940.6,1470.3 945.7,1470.3 950.9,1456.3 956.1,1445.7 961.3,1458.8 966.5,1483.0 971.7,1492.0 976.8,1475.8 982.0,1450.9 987.2,1446.9 992.2,1468.6 997.4,1486.0 1002.6,1485.5 1007.7,1470.3 1012.9,1466.8 1018.1,1477.3 1023.3,1485.4 1028.5,1475.5 1033.6,1456.0 1038.8,1446.9 1044.0,1455.6 1049.1,1465.3 1054.3,1463.1 1059.5,1451.2 1064.7,1446.9 1069.8,1458.2 1075.0,1472.2 1080.2,1476.8 1085.2,1470.9 1090.5,1469.3 1095.7,1480.2 1100.9,1494.9 1105.9,1496.9 1111.1,1482.3 1116.3,1466.4 1121.4,1458.0 1126.6,1458.8 1131.8,1460.2 1137.0,1458.8 1142.1,1455.9 1147.3,1453.4 1152.5,1449.1 1157.7,1441.5 1162.8,1438.9 1168.0,1447.6 1173.2,1464.5 1178.3,1478.1 1183.5,1479.0 1188.7,1472.6 1193.7,1470.3 1199.0,1476.1 1204.2,1483.3 1209.4,1485.4 1214.4,1481.9 1219.6,1477.6 1224.8,1476.1 1230.0,1474.7 1235.1,1470.0 1240.3,1465.1 1245.5,1463.5 1250.7,1465.1 1255.8,1466.7 1259.7,1466.0 1262.9,1465.1 1267.9,1463.3 1271.9,1463.7 1276.8,1465.9 1281.8,1467.7 1287.8,1465.7 1292.3,1462.6 1296.8,1460.1 1301.7,1459.5 1306.2,1460.0 1310.7,1460.5 1316.6,1459.7 1322.6,1458.9 1328.6,1460.5 1334.0,1463.4 1339.5,1466.5 1344.5,1468.6 1349.5,1469.7 1354.1,1469.6 1358.7,1469.5 1363.4,1469.5 1369.3,1471.2 1374.8,1474.3 1380.3,1476.4 1385.3,1476.0 1390.7,1473.7 1396.2,1471.2 1402.2,1470.5 1408.1,1469.8 1412.5,1468.0 1416.8,1465.4 1421.1,1463.7 1425.0,1463.3 1431.0,1464.0 1437.0,1464.7 1442.3,1463.9 1447.6,1462.3 1452.9,1461.1 1460.8,1460.3 1465.8,1460.7 1470.8,1461.7 1476.8,1464.1 1482.7,1466.7 1489.7,1468.1 1494.0,1467.5 1498.3,1466.6 1502.6,1466.1 1506.6,1466.9 1512.6,1470.2 1518.5,1472.6 1523.5,1472.2 1527.8,1470.8 1532.1,1468.5 1536.4,1466.7 1543.4,1465.5 1549.0,1465.6 1554.7,1465.9 1560.3,1466.1 1566.3,1465.8 1572.2,1465.5 1577.2,1466.1 1582.2,1467.2 1587.2,1467.9 1591.8,1467.2 1596.4,1466.1 1601.1,1465.5 1606.1,1466.3 1611.5,1468.1 1617.0,1469.5 1622.5,1468.9 1627.9,1468.3 1633.4,1468.9 1638.9,1469.5 1643.8,1468.5 1648.8,1466.8 1653.8,1465.9 1659.8,1466.4 1665.7,1466.9 1670.4,1466.4 1675.0,1465.5 1679.7,1465.1 1684.7,1465.3 1689.8,1465.7 1694.9,1465.9 1701.9,1464.7 1706.8,1463.2 1711.8,1462.1 1718.8,1461.9 1724.8,1462.8 1730.7,1464.3 1736.2,1465.3 1741.7,1466.3 1746.3,1467.4 1751.0,1468.5 1755.6,1469.5 1761.6,1470.3 1767.5,1470.7 1775.5,1470.7 1779.8,1470.3 1784.1,1469.5 1788.4,1468.9 1793.4,1468.6 1798.3,1468.3 1803.3,1468.1 1808.3,1467.5 1813.3,1466.8 1818.2,1466.0 1823.2,1465.5 1828.0,1465.1 1832.8,1464.8 1837.5,1464.5 1842.3,1464.3 1847.1,1464.3 1852.6,1464.4 1858.0,1464.7 1863.5,1465.0 1869.0,1465.3 1874.3,1465.6 1879.6,1465.9 1884.9,1466.1 1890.8,1465.9 1896.8,1465.7 1904.8,1466.5 1910.2,1467.5 1915.7,1468.3 1920.9,1468.2 1926.2,1467.9 1931.4,1467.6 1936.6,1467.3 1941.2,1466.8 1945.9,1466.2 1950.5,1465.9 1955.5,1466.5 1960.0,1467.6 1964.5,1468.5 1969.4,1467.8 1974.4,1467.1 1978.4,1467.3 1983.8,1469.3 1989.3,1471.0 1993.3,1470.0 1998.8,1466.6 2004.2,1464.1 2010.2,1466.2 2016.2,1468.3 2020.1,1467.9 2025.6,1465.1 2031.1,1462.7 2037.0,1464.2 2043.0,1465.7 2049.0,1465.3 2054.9,1464.9 2060.9,1466.7 2066.9,1468.5 2070.9,1468.3 2075.8,1467.3 2080.8,1466.5 2086.3,1467.3 2091.8,1468.1 2097.7,1466.8 2103.7,1465.5 2108.2,1465.6 2112.6,1465.9"/>
</g>
<text class="lb" x="325.3" y="235.3">608800187 | 1.00</text>
<text class="lb" x="325.3" y="356.9">1336377 | 0.79</text>
<text class="lb" x="325.3" y="478.5">1336342 | 0.79</text>
<text class="lb" x="325.3" y="600.1">1336356 | 0.75</text>
<text class="lb" x="325.3" y="721.7">1336341 | 0.75</text>
<text class="lb" x="325.3" y="843.3">1336363 | 0.75</text>
<text class="lb" x="325.3" y="964.9">1500286 | 0.73</text>
<text class="lb" x="325.3" y="1086.5">1318054 | 0.73</text>
<text class="lb" x="325.3" y="1208.1">1336380 | 0.72</text>
<text class="lb" x="325.3" y="1329.7">1500285 | 0.71</text>
<line class="r" x1="665.6" y1="220.1" x2="665.6" y2="280.9"/>
<line class="gr" x1="1001.6" y1="220.1" x2="1001.6" y2="280.9"/>
<line class="r" x1="666.4" y1="341.7" x2="666.4" y2="402.5"/>
<line class="gr" x1="1014.3" y1="341.7" x2="1014.3" y2="402.5"/>
<line class="r" x1="655.9" y1="463.3" x2="655.9" y2="524.1"/>
<line class="gr" x1="1010.6" y1="463.3" x2="1010.6" y2="524.1"/>
<line class="r" x1="668.0" y1="584.9" x2="668.0" y2="645.7"/>
<line class="gr" x1="997.0" y1="584.9" x2="997.0" y2="645.7"/>
<line class="r" x1="672.4" y1="706.5" x2="672.4" y2="767.3"/>
<line class="gr" x1="1002.3" y1="706.5" x2="1002.3" y2="767.3"/>
<line class="r" x1="666.3" y1="828.1" x2="666.3" y2="888.9"/>
<line class="gr" x1="1020.9" y1="828.1" x2="1020.9" y2="888.9"/>
<line class="r" x1="666.4" y1="949.7" x2="666.4" y2="1010.5"/>
<line class="gr" x1="1001.7" y1="949.7" x2="1001.7" y2="1010.5"/>
<line class="r" x1="677.0" y1="1071.3" x2="677.0" y2="1132.1"/>
<line class="gr" x1="1016.7" y1="1071.3" x2="1016.7" y2="1132.1"/>
<line class="r" x1="672.0" y1="1192.9" x2="672.0" y2="1253.7"/>
<line class="gr" x1="1007.0" y1="1192.9" x2="1007.0" y2="1253.7"/>
<line class="r" x1="676.3" y1="1314.5" x2="676.3" y2="1375.3"/>
<line class="gr" x1="1010.5" y1="1314.5" x2="1010.5" y2="1375.3"/>
<text class="ti" x="1206.7" y="96">608800187.OO.AXID1.EHZ</text>
</svg>
</body>
</html>
